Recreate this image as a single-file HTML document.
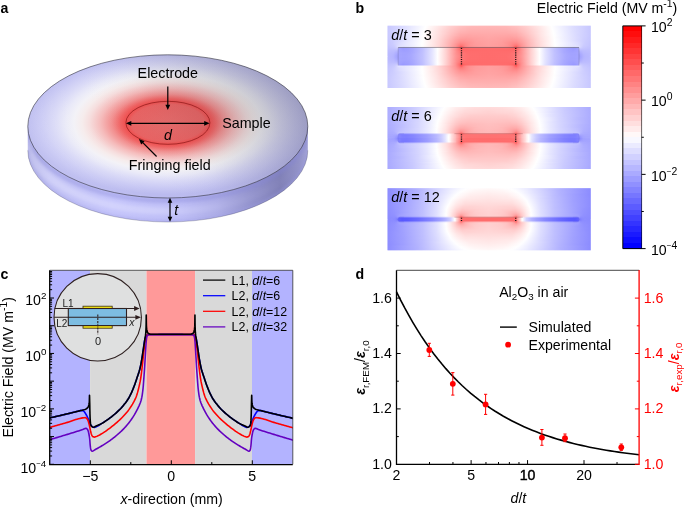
<!DOCTYPE html>
<html lang="en"><head><meta charset="utf-8"><title>Fringing field figure</title>
<style>html,body{margin:0;padding:0;background:#fff}svg{display:block;will-change:transform;font-family:'Liberation Sans', Arial, Helvetica, sans-serif;font-size:14.15px;fill:#000}</style>
</head><body>
<svg width="685" height="507" viewBox="0 0 685 507">
<rect width="685" height="507" fill="#fff"/>
<defs>
<radialGradient id="aTop" cx="0.5" cy="0.475" r="0.5" fx="0.5" fy="0.475">
<stop offset="0" stop-color="#e56a6a"/>
<stop offset="0.26" stop-color="#e86262"/>
<stop offset="0.30" stop-color="#f04e4e"/>
<stop offset="0.34" stop-color="#f06464"/>
<stop offset="0.40" stop-color="#f29090"/>
<stop offset="0.48" stop-color="#f5bcbc"/>
<stop offset="0.56" stop-color="#f6dede"/>
<stop offset="0.61" stop-color="#f6ecec"/>
<stop offset="0.67" stop-color="#f3f2f7"/>
<stop offset="0.73" stop-color="#eaeaf8"/>
<stop offset="0.81" stop-color="#dadaf7"/>
<stop offset="0.91" stop-color="#c9c9f4"/>
<stop offset="1" stop-color="#bbbbef"/>
</radialGradient>
<linearGradient id="aShade" x1="0" y1="0.7" x2="1" y2="0.3">
<stop offset="0" stop-color="#ffffff" stop-opacity="0.10"/>
<stop offset="0.3" stop-color="#ffffff" stop-opacity="0"/>
<stop offset="0.5" stop-color="#505058" stop-opacity="0.03"/>
<stop offset="0.65" stop-color="#505058" stop-opacity="0.12"/>
<stop offset="0.82" stop-color="#505058" stop-opacity="0.22"/>
<stop offset="1" stop-color="#505058" stop-opacity="0.32"/>
</linearGradient>
<linearGradient id="aSide" x1="0" y1="0" x2="1" y2="0">
<stop offset="0" stop-color="#b4b4e6"/>
<stop offset="0.08" stop-color="#c2c2f4"/>
<stop offset="0.3" stop-color="#c6c6fb"/>
<stop offset="0.55" stop-color="#bdbdf6"/>
<stop offset="0.68" stop-color="#adade6"/>
<stop offset="0.8" stop-color="#9292cc"/>
<stop offset="0.9" stop-color="#7f7fb6"/>
<stop offset="0.97" stop-color="#9292c8"/>
<stop offset="1" stop-color="#a2a2d4"/>
</linearGradient>
</defs>
<clipPath id="aSideClip"><path d="M27.8,126.4 L27.8,150.4 A140,71.6 0 0 0 307.8,150.4 L307.8,126.4 Z"/></clipPath>
<filter id="aBlur" x="-5%%" y="-60%%" width="110%%" height="220%%"><feGaussianBlur stdDeviation="1.5"/></filter>
<path d="M27.8,126.4 L27.8,150.4 A140,71.6 0 0 0 307.8,150.4 L307.8,126.4 Z" fill="url(#aSide)"/>
<g clip-path="url(#aSideClip)"><g filter="url(#aBlur)" fill="none">
<path d="M27.8,128.9 A140,71.6 0 0 0 307.8,128.9" stroke="#8484d8" stroke-opacity="0.36" stroke-width="5"/>
<linearGradient id="aHi" gradientUnits="userSpaceOnUse" x1="28" y1="0" x2="308" y2="0"><stop offset="0" stop-color="#e6e6ff" stop-opacity="0.2"/><stop offset="0.1" stop-color="#e6e6ff" stop-opacity="0.4"/><stop offset="0.45" stop-color="#e6e6ff" stop-opacity="0.36"/><stop offset="0.7" stop-color="#e6e6ff" stop-opacity="0.08"/><stop offset="1" stop-color="#e6e6ff" stop-opacity="0"/></linearGradient>
<path d="M27.8,139.4 A140,71.6 0 0 0 307.8,139.4" stroke="url(#aHi)" stroke-width="7"/>
<path d="M27.8,149.9 A140,71.6 0 0 0 307.8,149.9" stroke="#9a9ae4" stroke-opacity="0.4" stroke-width="3"/>
</g></g>
<path d="M27.8,150.4 A140,71.6 0 0 0 307.8,150.4" fill="none" stroke="#3a3a55" stroke-opacity="0.55" stroke-width="0.5"/>
<ellipse cx="167.8" cy="126.4" rx="140" ry="71.6" fill="url(#aTop)"/>
<ellipse cx="167.8" cy="126.4" rx="140" ry="71.6" fill="url(#aShade)" stroke="#33333d" stroke-width="0.6"/>
<ellipse cx="167.9" cy="122.8" rx="42" ry="21.5" fill="none" stroke="#8a1818" stroke-width="0.7"/>
<g stroke="#000" stroke-width="1.2" fill="none">
<line x1="167.8" y1="86.5" x2="167.8" y2="106"/>
<line x1="130" y1="123.3" x2="205" y2="123.3"/>
<line x1="156.6" y1="156.5" x2="141.8" y2="141.7"/>
<line x1="170" y1="201" x2="170" y2="218"/>
</g>
<polygon points="167.8,110 165.4,104.8 170.2,104.8" fill="#000"/>
<polygon points="125.9,123.3 131.3,120.9 131.3,125.7" fill="#000"/>
<polygon points="209.6,123.3 204.2,125.7 204.2,120.9" fill="#000"/>
<polygon points="138.9,138.9 144.56,141.15 141.18,144.55" fill="#000"/>
<polygon points="170,197.8 172.3,202.8 167.7,202.8" fill="#000"/>
<polygon points="170,221.8 167.7,216.8 172.3,216.8" fill="#000"/>
<text x="0.6" y="12.9" font-weight="bold">a</text>
<g font-size="14.3">
<text x="137.6" y="78.1">Electrode</text>
<text x="222.2" y="127.8">Sample</text>
<text x="128.8" y="170.1">Fringing field</text>
<text x="164" y="140" font-style="italic">d</text>
<text x="174.3" y="214.7" font-style="italic">t</text>
</g>
<defs><clipPath id="bend"><rect x="396" y="0" width="8" height="260"/><rect x="573" y="0" width="8" height="260"/></clipPath>
<clipPath id="bc3"><rect x="387.6" y="25.8" width="203.1" height="62.1"/></clipPath>
<linearGradient id="b3_32" gradientUnits="userSpaceOnUse" x1="488.6" y1="0" x2="592.1" y2="0" spreadMethod="reflect"><stop offset="0" stop-color="#ffbbbb"/><stop offset="0.1643" stop-color="#ffbdbd"/><stop offset="0.2705" stop-color="#ffc5c5"/><stop offset="0.3623" stop-color="#ffd2d2"/><stop offset="0.599" stop-color="#ffffff"/><stop offset="0.8213" stop-color="#dbdbff"/><stop offset="1" stop-color="#c5c5ff"/></linearGradient>
<linearGradient id="b3_31" gradientUnits="userSpaceOnUse" x1="488.6" y1="0" x2="592.1" y2="0" spreadMethod="reflect"><stop offset="0" stop-color="#ffb9b9"/><stop offset="0.1691" stop-color="#ffbbbb"/><stop offset="0.2705" stop-color="#ffc3c3"/><stop offset="0.3623" stop-color="#ffd0d0"/><stop offset="0.6039" stop-color="#ffffff"/><stop offset="0.8213" stop-color="#dcdcff"/><stop offset="1" stop-color="#c5c5ff"/></linearGradient>
<linearGradient id="b3_30" gradientUnits="userSpaceOnUse" x1="488.6" y1="0" x2="592.1" y2="0" spreadMethod="reflect"><stop offset="0" stop-color="#ffb7b7"/><stop offset="0.1691" stop-color="#ffb9b9"/><stop offset="0.2705" stop-color="#ffc1c1"/><stop offset="0.3623" stop-color="#ffcfcf"/><stop offset="0.6087" stop-color="#ffffff"/><stop offset="0.8213" stop-color="#dcdcff"/><stop offset="1" stop-color="#c5c5ff"/></linearGradient>
<linearGradient id="b3_29" gradientUnits="userSpaceOnUse" x1="488.6" y1="0" x2="592.1" y2="0" spreadMethod="reflect"><stop offset="0" stop-color="#ffb5b5"/><stop offset="0.1739" stop-color="#ffb7b7"/><stop offset="0.2705" stop-color="#ffbfbf"/><stop offset="0.3623" stop-color="#ffcdcd"/><stop offset="0.6087" stop-color="#ffffff"/><stop offset="0.8213" stop-color="#dcdcff"/><stop offset="1" stop-color="#c5c5ff"/></linearGradient>
<linearGradient id="b3_28" gradientUnits="userSpaceOnUse" x1="488.6" y1="0" x2="592.1" y2="0" spreadMethod="reflect"><stop offset="0" stop-color="#ffb4b4"/><stop offset="0.1739" stop-color="#ffb5b5"/><stop offset="0.2705" stop-color="#ffbcbc"/><stop offset="0.3623" stop-color="#ffcbcb"/><stop offset="0.6135" stop-color="#ffffff"/><stop offset="0.8213" stop-color="#dcdcff"/><stop offset="1" stop-color="#c5c5ff"/></linearGradient>
<linearGradient id="b3_27" gradientUnits="userSpaceOnUse" x1="488.6" y1="0" x2="592.1" y2="0" spreadMethod="reflect"><stop offset="0" stop-color="#ffb2b2"/><stop offset="0.1787" stop-color="#ffb4b4"/><stop offset="0.2705" stop-color="#ffbaba"/><stop offset="0.3623" stop-color="#ffc9c9"/><stop offset="0.6184" stop-color="#ffffff"/><stop offset="0.8213" stop-color="#ddddff"/><stop offset="1" stop-color="#c5c5ff"/></linearGradient>
<linearGradient id="b3_26" gradientUnits="userSpaceOnUse" x1="488.6" y1="0" x2="592.1" y2="0" spreadMethod="reflect"><stop offset="0" stop-color="#ffb0b0"/><stop offset="0.1787" stop-color="#ffb1b1"/><stop offset="0.2705" stop-color="#ffb8b8"/><stop offset="0.3623" stop-color="#ffc7c7"/><stop offset="0.6184" stop-color="#ffffff"/><stop offset="0.8213" stop-color="#ddddff"/><stop offset="1" stop-color="#c5c5ff"/></linearGradient>
<linearGradient id="b3_25" gradientUnits="userSpaceOnUse" x1="488.6" y1="0" x2="592.1" y2="0" spreadMethod="reflect"><stop offset="0" stop-color="#ffafaf"/><stop offset="0.1787" stop-color="#ffafaf"/><stop offset="0.2705" stop-color="#ffb5b5"/><stop offset="0.3623" stop-color="#ffc6c6"/><stop offset="0.6232" stop-color="#ffffff"/><stop offset="0.8213" stop-color="#ddddff"/><stop offset="1" stop-color="#c5c5ff"/></linearGradient>
<linearGradient id="b3_24" gradientUnits="userSpaceOnUse" x1="488.6" y1="0" x2="592.1" y2="0" spreadMethod="reflect"><stop offset="0" stop-color="#ffadad"/><stop offset="0.1787" stop-color="#ffadad"/><stop offset="0.2705" stop-color="#ffb3b3"/><stop offset="0.3623" stop-color="#ffc4c4"/><stop offset="0.6232" stop-color="#ffffff"/><stop offset="0.8213" stop-color="#ddddff"/><stop offset="1" stop-color="#c5c5ff"/></linearGradient>
<linearGradient id="b3_23" gradientUnits="userSpaceOnUse" x1="488.6" y1="0" x2="592.1" y2="0" spreadMethod="reflect"><stop offset="0" stop-color="#ffacac"/><stop offset="0.1787" stop-color="#ffabab"/><stop offset="0.2705" stop-color="#ffb0b0"/><stop offset="0.3623" stop-color="#ffc2c2"/><stop offset="0.5024" stop-color="#ffe5e5"/><stop offset="0.628" stop-color="#ffffff"/><stop offset="0.8213" stop-color="#dedeff"/><stop offset="1" stop-color="#c5c5ff"/></linearGradient>
<linearGradient id="b3_22" gradientUnits="userSpaceOnUse" x1="488.6" y1="0" x2="592.1" y2="0" spreadMethod="reflect"><stop offset="0" stop-color="#ffaaaa"/><stop offset="0.1932" stop-color="#ffa9a9"/><stop offset="0.2705" stop-color="#ffadad"/><stop offset="0.314" stop-color="#ffb5b5"/><stop offset="0.5024" stop-color="#ffe4e4"/><stop offset="0.628" stop-color="#ffffff"/><stop offset="0.8647" stop-color="#d7d7ff"/><stop offset="1" stop-color="#c5c5ff"/></linearGradient>
<linearGradient id="b3_21" gradientUnits="userSpaceOnUse" x1="488.6" y1="0" x2="592.1" y2="0" spreadMethod="reflect"><stop offset="0" stop-color="#ffa9a9"/><stop offset="0.1981" stop-color="#ffa6a6"/><stop offset="0.2705" stop-color="#ffaaaa"/><stop offset="0.3623" stop-color="#ffbebe"/><stop offset="0.5459" stop-color="#ffeeee"/><stop offset="0.6329" stop-color="#ffffff"/><stop offset="0.8647" stop-color="#d7d7ff"/><stop offset="1" stop-color="#c5c5ff"/></linearGradient>
<linearGradient id="b3_20" gradientUnits="userSpaceOnUse" x1="488.6" y1="0" x2="592.1" y2="0" spreadMethod="reflect"><stop offset="0" stop-color="#ffa8a8"/><stop offset="0.2029" stop-color="#ffa4a4"/><stop offset="0.2705" stop-color="#ffa8a8"/><stop offset="0.3623" stop-color="#ffbcbc"/><stop offset="0.5024" stop-color="#ffe3e3"/><stop offset="0.6329" stop-color="#ffffff"/><stop offset="0.8647" stop-color="#d7d7ff"/><stop offset="1" stop-color="#c5c5ff"/></linearGradient>
<linearGradient id="b3_19" gradientUnits="userSpaceOnUse" x1="488.6" y1="0" x2="592.1" y2="0" spreadMethod="reflect"><stop offset="0" stop-color="#ffa7a7"/><stop offset="0.2077" stop-color="#ffa1a1"/><stop offset="0.2705" stop-color="#ffa4a4"/><stop offset="0.314" stop-color="#ffacac"/><stop offset="0.5024" stop-color="#ffe2e2"/><stop offset="0.6329" stop-color="#fffefe"/><stop offset="0.913" stop-color="#d0d0ff"/><stop offset="1" stop-color="#c4c4ff"/></linearGradient>
<linearGradient id="b3_18" gradientUnits="userSpaceOnUse" x1="488.6" y1="0" x2="592.1" y2="0" spreadMethod="reflect"><stop offset="0" stop-color="#ffa6a6"/><stop offset="0.2174" stop-color="#ff9e9e"/><stop offset="0.2705" stop-color="#ffa1a1"/><stop offset="0.314" stop-color="#ffaaaa"/><stop offset="0.5024" stop-color="#ffe1e1"/><stop offset="0.6329" stop-color="#fffefe"/><stop offset="0.913" stop-color="#d0d0ff"/><stop offset="1" stop-color="#c4c4ff"/></linearGradient>
<linearGradient id="b3_17" gradientUnits="userSpaceOnUse" x1="488.6" y1="0" x2="592.1" y2="0" spreadMethod="reflect"><stop offset="0" stop-color="#ffa4a4"/><stop offset="0.2222" stop-color="#ff9b9b"/><stop offset="0.2705" stop-color="#ff9d9d"/><stop offset="0.314" stop-color="#ffa6a6"/><stop offset="0.5024" stop-color="#ffe0e0"/><stop offset="0.6377" stop-color="#ffffff"/><stop offset="0.913" stop-color="#cfcfff"/><stop offset="1" stop-color="#c4c4ff"/></linearGradient>
<linearGradient id="b3_16" gradientUnits="userSpaceOnUse" x1="488.6" y1="0" x2="592.1" y2="0" spreadMethod="reflect"><stop offset="0" stop-color="#ffa4a4"/><stop offset="0.087" stop-color="#ffa2a2"/><stop offset="0.2319" stop-color="#ff9797"/><stop offset="0.2705" stop-color="#ff9999"/><stop offset="0.314" stop-color="#ffa3a3"/><stop offset="0.5024" stop-color="#ffe0e0"/><stop offset="0.6377" stop-color="#ffffff"/><stop offset="0.913" stop-color="#cfcfff"/><stop offset="1" stop-color="#c4c4ff"/></linearGradient>
<linearGradient id="b3_15" gradientUnits="userSpaceOnUse" x1="488.6" y1="0" x2="592.1" y2="0" spreadMethod="reflect"><stop offset="0" stop-color="#ffa3a3"/><stop offset="0.1208" stop-color="#ff9f9f"/><stop offset="0.2319" stop-color="#ff9494"/><stop offset="0.2705" stop-color="#ff9595"/><stop offset="0.314" stop-color="#ffa0a0"/><stop offset="0.4589" stop-color="#ffd3d3"/><stop offset="0.6377" stop-color="#ffffff"/><stop offset="0.9227" stop-color="#cdcdff"/><stop offset="1" stop-color="#c3c3ff"/></linearGradient>
<linearGradient id="b3_14" gradientUnits="userSpaceOnUse" x1="488.6" y1="0" x2="592.1" y2="0" spreadMethod="reflect"><stop offset="0" stop-color="#ffa2a2"/><stop offset="0.1159" stop-color="#ff9e9e"/><stop offset="0.2367" stop-color="#ff8f8f"/><stop offset="0.2705" stop-color="#ff8f8f"/><stop offset="0.4589" stop-color="#ffd2d2"/><stop offset="0.6377" stop-color="#ffffff"/><stop offset="0.8599" stop-color="#dbdbff"/><stop offset="0.9275" stop-color="#ccccff"/><stop offset="1" stop-color="#c3c3ff"/></linearGradient>
<linearGradient id="b3_13" gradientUnits="userSpaceOnUse" x1="488.6" y1="0" x2="592.1" y2="0" spreadMethod="reflect"><stop offset="0" stop-color="#ffa2a2"/><stop offset="0.1304" stop-color="#ff9c9c"/><stop offset="0.2415" stop-color="#ff8a8a"/><stop offset="0.2705" stop-color="#ff8a8a"/><stop offset="0.4589" stop-color="#ffd1d1"/><stop offset="0.5459" stop-color="#ffeaea"/><stop offset="0.6425" stop-color="#ffffff"/><stop offset="0.8599" stop-color="#dcdcff"/><stop offset="0.9275" stop-color="#ccccff"/><stop offset="1" stop-color="#c2c2ff"/></linearGradient>
<linearGradient id="b3_12" gradientUnits="userSpaceOnUse" x1="488.6" y1="0" x2="592.1" y2="0" spreadMethod="reflect"><stop offset="0" stop-color="#ffa1a1"/><stop offset="0.1353" stop-color="#ff9b9b"/><stop offset="0.1787" stop-color="#ff9595"/><stop offset="0.2512" stop-color="#ff8383"/><stop offset="0.2705" stop-color="#ff8282"/><stop offset="0.3671" stop-color="#ffafaf"/><stop offset="0.4589" stop-color="#ffd0d0"/><stop offset="0.5459" stop-color="#ffe9e9"/><stop offset="0.6425" stop-color="#ffffff"/><stop offset="0.8599" stop-color="#ddddff"/><stop offset="0.9275" stop-color="#cbcbff"/><stop offset="1" stop-color="#c2c2ff"/></linearGradient>
<linearGradient id="b3_11" gradientUnits="userSpaceOnUse" x1="488.6" y1="0" x2="592.1" y2="0" spreadMethod="reflect"><stop offset="0" stop-color="#ffa1a1"/><stop offset="0.1353" stop-color="#ff9a9a"/><stop offset="0.1787" stop-color="#ff9494"/><stop offset="0.2222" stop-color="#ff8888"/><stop offset="0.256" stop-color="#ff7b7b"/><stop offset="0.2705" stop-color="#ff7a7a"/><stop offset="0.3188" stop-color="#ff9797"/><stop offset="0.4106" stop-color="#ffbfbf"/><stop offset="0.5024" stop-color="#ffdddd"/><stop offset="0.6425" stop-color="#ffffff"/><stop offset="0.7295" stop-color="#efefff"/><stop offset="0.8599" stop-color="#dedeff"/><stop offset="0.9179" stop-color="#ccccff"/><stop offset="1" stop-color="#c1c1ff"/></linearGradient>
<linearGradient id="b3_10" gradientUnits="userSpaceOnUse" x1="488.6" y1="0" x2="592.1" y2="0" spreadMethod="reflect"><stop offset="0" stop-color="#ffa0a0"/><stop offset="0.087" stop-color="#ff9e9e"/><stop offset="0.1787" stop-color="#ff9393"/><stop offset="0.2271" stop-color="#ff8484"/><stop offset="0.2657" stop-color="#ff6c6c"/><stop offset="0.3188" stop-color="#ff9494"/><stop offset="0.4106" stop-color="#ffbebe"/><stop offset="0.5024" stop-color="#ffdcdc"/><stop offset="0.6425" stop-color="#ffffff"/><stop offset="0.7778" stop-color="#e8e8ff"/><stop offset="0.8647" stop-color="#e0e0ff"/><stop offset="0.913" stop-color="#cbcbff"/><stop offset="1" stop-color="#c1c1ff"/></linearGradient>
<linearGradient id="b3_9" gradientUnits="userSpaceOnUse" x1="488.6" y1="0" x2="592.1" y2="0" spreadMethod="reflect"><stop offset="0" stop-color="#ffa0a0"/><stop offset="0.1304" stop-color="#ff9a9a"/><stop offset="0.2029" stop-color="#ff8c8c"/><stop offset="0.2271" stop-color="#ff8282"/><stop offset="0.2464" stop-color="#ff7171"/><stop offset="0.256" stop-color="#ff6464"/><stop offset="0.2657" stop-color="#ff4f4f"/><stop offset="0.2754" stop-color="#ff6c6c"/><stop offset="0.2899" stop-color="#ff7b7b"/><stop offset="0.3188" stop-color="#ff9292"/><stop offset="0.3671" stop-color="#ffaaaa"/><stop offset="0.5024" stop-color="#ffdcdc"/><stop offset="0.6425" stop-color="#fffefe"/><stop offset="0.8213" stop-color="#e4e4ff"/><stop offset="0.8744" stop-color="#e6e6ff"/><stop offset="0.8792" stop-color="#ddddff"/><stop offset="0.8889" stop-color="#d4d4ff"/><stop offset="0.913" stop-color="#c9c9ff"/><stop offset="1" stop-color="#c0c0ff"/></linearGradient>
<linearGradient id="b3_8" gradientUnits="userSpaceOnUse" x1="488.6" y1="0" x2="592.1" y2="0" spreadMethod="reflect"><stop offset="0" stop-color="#ff6c6c"/><stop offset="0.1643" stop-color="#ff6c6c"/><stop offset="0.2174" stop-color="#ff6868"/><stop offset="0.2464" stop-color="#ff5e5e"/><stop offset="0.256" stop-color="#ff5555"/><stop offset="0.2657" stop-color="#ff4848"/><stop offset="0.2754" stop-color="#ff6565"/><stop offset="0.3188" stop-color="#ff9292"/><stop offset="0.4106" stop-color="#ffd1d1"/><stop offset="0.4589" stop-color="#ffeeee"/><stop offset="0.4928" stop-color="#fefeff"/><stop offset="0.5459" stop-color="#e1e1ff"/><stop offset="0.6377" stop-color="#bebeff"/><stop offset="0.7295" stop-color="#a6a6ff"/><stop offset="0.7971" stop-color="#9b9bff"/><stop offset="0.8357" stop-color="#9898ff"/><stop offset="0.8599" stop-color="#9e9eff"/><stop offset="0.8696" stop-color="#aeaeff"/><stop offset="0.8744" stop-color="#d6d6ff"/><stop offset="0.8889" stop-color="#cdcdff"/><stop offset="0.913" stop-color="#c6c6ff"/><stop offset="1" stop-color="#bfbfff"/></linearGradient>
<linearGradient id="b3_7" gradientUnits="userSpaceOnUse" x1="488.6" y1="0" x2="592.1" y2="0" spreadMethod="reflect"><stop offset="0" stop-color="#ff6c6c"/><stop offset="0.1787" stop-color="#ff6b6b"/><stop offset="0.2222" stop-color="#ff6868"/><stop offset="0.2657" stop-color="#ff5f5f"/><stop offset="0.3188" stop-color="#ff9292"/><stop offset="0.3623" stop-color="#ffaeae"/><stop offset="0.3671" stop-color="#ffb4b4"/><stop offset="0.4589" stop-color="#ffeeee"/><stop offset="0.4928" stop-color="#ffffff"/><stop offset="0.5459" stop-color="#e2e2ff"/><stop offset="0.6377" stop-color="#bfbfff"/><stop offset="0.7295" stop-color="#a7a7ff"/><stop offset="0.7778" stop-color="#9f9fff"/><stop offset="0.8261" stop-color="#9b9bff"/><stop offset="0.8599" stop-color="#a1a1ff"/><stop offset="0.8696" stop-color="#a7a7ff"/><stop offset="0.8744" stop-color="#c5c5ff"/><stop offset="1" stop-color="#bfbfff"/></linearGradient>
<linearGradient id="b3_6" gradientUnits="userSpaceOnUse" x1="488.6" y1="0" x2="592.1" y2="0" spreadMethod="reflect"><stop offset="0" stop-color="#ff6c6c"/><stop offset="0.2657" stop-color="#ff6969"/><stop offset="0.3671" stop-color="#ffb4b4"/><stop offset="0.4589" stop-color="#ffeeee"/><stop offset="0.4928" stop-color="#ffffff"/><stop offset="0.5459" stop-color="#e3e3ff"/><stop offset="0.6377" stop-color="#bfbfff"/><stop offset="0.7295" stop-color="#a8a8ff"/><stop offset="0.7778" stop-color="#a0a0ff"/><stop offset="0.8213" stop-color="#9d9dff"/><stop offset="0.8599" stop-color="#a2a2ff"/><stop offset="0.8696" stop-color="#a6a6ff"/><stop offset="0.8744" stop-color="#bcbcff"/><stop offset="0.8841" stop-color="#bebeff"/><stop offset="1" stop-color="#bebeff"/></linearGradient>
<linearGradient id="b3_5" gradientUnits="userSpaceOnUse" x1="488.6" y1="0" x2="592.1" y2="0" spreadMethod="reflect"><stop offset="0" stop-color="#ff6c6c"/><stop offset="0.2319" stop-color="#ff6b6b"/><stop offset="0.2657" stop-color="#ff7070"/><stop offset="0.4106" stop-color="#ffd1d1"/><stop offset="0.4928" stop-color="#ffffff"/><stop offset="0.5459" stop-color="#e3e3ff"/><stop offset="0.6377" stop-color="#c0c0ff"/><stop offset="0.7295" stop-color="#a9a9ff"/><stop offset="0.7778" stop-color="#a1a1ff"/><stop offset="0.8213" stop-color="#9f9fff"/><stop offset="0.8599" stop-color="#a3a3ff"/><stop offset="0.8696" stop-color="#a5a5ff"/><stop offset="0.8744" stop-color="#b3b3ff"/><stop offset="0.913" stop-color="#bcbcff"/><stop offset="1" stop-color="#bebeff"/></linearGradient>
<linearGradient id="b3_4" gradientUnits="userSpaceOnUse" x1="488.6" y1="0" x2="592.1" y2="0" spreadMethod="reflect"><stop offset="0" stop-color="#ff6c6c"/><stop offset="0.2174" stop-color="#ff6d6d"/><stop offset="0.2609" stop-color="#ff7272"/><stop offset="0.314" stop-color="#ff8f8f"/><stop offset="0.3188" stop-color="#ff9595"/><stop offset="0.4106" stop-color="#ffd1d1"/><stop offset="0.4928" stop-color="#fffefe"/><stop offset="0.5459" stop-color="#e4e4ff"/><stop offset="0.6377" stop-color="#c0c0ff"/><stop offset="0.7295" stop-color="#a9a9ff"/><stop offset="0.7778" stop-color="#a2a2ff"/><stop offset="0.8164" stop-color="#a0a0ff"/><stop offset="0.8599" stop-color="#a3a3ff"/><stop offset="0.8696" stop-color="#a5a5ff"/><stop offset="0.8744" stop-color="#adadff"/><stop offset="0.8792" stop-color="#afafff"/><stop offset="0.913" stop-color="#b9b9ff"/><stop offset="1" stop-color="#bdbdff"/></linearGradient>
<linearGradient id="b3_3" gradientUnits="userSpaceOnUse" x1="488.6" y1="0" x2="592.1" y2="0" spreadMethod="reflect"><stop offset="0" stop-color="#ff6c6c"/><stop offset="0.2029" stop-color="#ff6d6d"/><stop offset="0.2609" stop-color="#ff7575"/><stop offset="0.314" stop-color="#ff9090"/><stop offset="0.4106" stop-color="#ffd1d1"/><stop offset="0.4928" stop-color="#fffefe"/><stop offset="0.5459" stop-color="#e4e4ff"/><stop offset="0.6377" stop-color="#c1c1ff"/><stop offset="0.7295" stop-color="#aaaaff"/><stop offset="0.7778" stop-color="#a3a3ff"/><stop offset="0.8599" stop-color="#a4a4ff"/><stop offset="0.9179" stop-color="#b8b8ff"/><stop offset="1" stop-color="#bdbdff"/></linearGradient>
<linearGradient id="b3_2" gradientUnits="userSpaceOnUse" x1="488.6" y1="0" x2="592.1" y2="0" spreadMethod="reflect"><stop offset="0" stop-color="#ff6c6c"/><stop offset="0.1981" stop-color="#ff6e6e"/><stop offset="0.2609" stop-color="#ff7777"/><stop offset="0.314" stop-color="#ff9191"/><stop offset="0.4106" stop-color="#ffd1d1"/><stop offset="0.4928" stop-color="#fffefe"/><stop offset="0.5459" stop-color="#e4e4ff"/><stop offset="0.6377" stop-color="#c1c1ff"/><stop offset="0.7536" stop-color="#a7a7ff"/><stop offset="0.8068" stop-color="#a2a2ff"/><stop offset="0.8744" stop-color="#a4a4ff"/><stop offset="0.9179" stop-color="#b6b6ff"/><stop offset="1" stop-color="#bcbcff"/></linearGradient>
<linearGradient id="b3_1" gradientUnits="userSpaceOnUse" x1="488.6" y1="0" x2="592.1" y2="0" spreadMethod="reflect"><stop offset="0" stop-color="#ff6c6c"/><stop offset="0.1787" stop-color="#ff6d6d"/><stop offset="0.2271" stop-color="#ff7171"/><stop offset="0.2609" stop-color="#ff7979"/><stop offset="0.314" stop-color="#ff9292"/><stop offset="0.4106" stop-color="#ffd1d1"/><stop offset="0.4928" stop-color="#fffefe"/><stop offset="0.5459" stop-color="#e4e4ff"/><stop offset="0.6377" stop-color="#c1c1ff"/><stop offset="0.7488" stop-color="#a8a8ff"/><stop offset="0.8068" stop-color="#a2a2ff"/><stop offset="0.8696" stop-color="#a5a5ff"/><stop offset="0.8744" stop-color="#a2a2ff"/><stop offset="0.9227" stop-color="#b6b6ff"/><stop offset="1" stop-color="#bcbcff"/></linearGradient>
<linearGradient id="b3_0" gradientUnits="userSpaceOnUse" x1="488.6" y1="0" x2="592.1" y2="0" spreadMethod="reflect"><stop offset="0" stop-color="#ff6c6c"/><stop offset="0.1787" stop-color="#ff6e6e"/><stop offset="0.2271" stop-color="#ff7171"/><stop offset="0.2609" stop-color="#ff7a7a"/><stop offset="0.314" stop-color="#ff9393"/><stop offset="0.4106" stop-color="#ffd1d1"/><stop offset="0.4928" stop-color="#fffefe"/><stop offset="0.5459" stop-color="#e4e4ff"/><stop offset="0.6377" stop-color="#c1c1ff"/><stop offset="0.7488" stop-color="#a8a8ff"/><stop offset="0.8068" stop-color="#a3a3ff"/><stop offset="0.8696" stop-color="#a5a5ff"/><stop offset="0.8744" stop-color="#a0a0ff"/><stop offset="0.9227" stop-color="#b5b5ff"/><stop offset="1" stop-color="#bcbcff"/></linearGradient>
<clipPath id="bc6"><rect x="387.6" y="107" width="203.1" height="62"/></clipPath>
<linearGradient id="b6_32" gradientUnits="userSpaceOnUse" x1="488.6" y1="0" x2="592.1" y2="0" spreadMethod="reflect"><stop offset="0" stop-color="#ffdddd"/><stop offset="0.2271" stop-color="#ffe5e5"/><stop offset="0.4106" stop-color="#ffffff"/><stop offset="0.7295" stop-color="#c8c8ff"/><stop offset="1" stop-color="#a6a6ff"/></linearGradient>
<linearGradient id="b6_31" gradientUnits="userSpaceOnUse" x1="488.6" y1="0" x2="592.1" y2="0" spreadMethod="reflect"><stop offset="0" stop-color="#ffdada"/><stop offset="0.2271" stop-color="#ffe3e3"/><stop offset="0.4203" stop-color="#fffeff"/><stop offset="0.7295" stop-color="#c8c8ff"/><stop offset="1" stop-color="#a6a6ff"/></linearGradient>
<linearGradient id="b6_30" gradientUnits="userSpaceOnUse" x1="488.6" y1="0" x2="592.1" y2="0" spreadMethod="reflect"><stop offset="0" stop-color="#ffd9d9"/><stop offset="0.1353" stop-color="#ffdbdb"/><stop offset="0.2271" stop-color="#ffe1e1"/><stop offset="0.314" stop-color="#ffebeb"/><stop offset="0.4251" stop-color="#ffffff"/><stop offset="0.7295" stop-color="#c8c8ff"/><stop offset="1" stop-color="#a6a6ff"/></linearGradient>
<linearGradient id="b6_29" gradientUnits="userSpaceOnUse" x1="488.6" y1="0" x2="592.1" y2="0" spreadMethod="reflect"><stop offset="0" stop-color="#ffd7d7"/><stop offset="0.1353" stop-color="#ffd9d9"/><stop offset="0.2271" stop-color="#ffdfdf"/><stop offset="0.314" stop-color="#ffe9e9"/><stop offset="0.4348" stop-color="#ffffff"/><stop offset="0.7295" stop-color="#c9c9ff"/><stop offset="1" stop-color="#a6a6ff"/></linearGradient>
<linearGradient id="b6_28" gradientUnits="userSpaceOnUse" x1="488.6" y1="0" x2="592.1" y2="0" spreadMethod="reflect"><stop offset="0" stop-color="#ffd5d5"/><stop offset="0.1353" stop-color="#ffd7d7"/><stop offset="0.2271" stop-color="#ffdcdc"/><stop offset="0.314" stop-color="#ffe7e7"/><stop offset="0.4396" stop-color="#ffffff"/><stop offset="0.7295" stop-color="#c9c9ff"/><stop offset="1" stop-color="#a6a6ff"/></linearGradient>
<linearGradient id="b6_27" gradientUnits="userSpaceOnUse" x1="488.6" y1="0" x2="592.1" y2="0" spreadMethod="reflect"><stop offset="0" stop-color="#ffd3d3"/><stop offset="0.2271" stop-color="#ffdada"/><stop offset="0.314" stop-color="#ffe6e6"/><stop offset="0.4444" stop-color="#ffffff"/><stop offset="0.7295" stop-color="#c9c9ff"/><stop offset="1" stop-color="#a7a7ff"/></linearGradient>
<linearGradient id="b6_26" gradientUnits="userSpaceOnUse" x1="488.6" y1="0" x2="592.1" y2="0" spreadMethod="reflect"><stop offset="0" stop-color="#ffd1d1"/><stop offset="0.2271" stop-color="#ffd8d8"/><stop offset="0.314" stop-color="#ffe3e3"/><stop offset="0.4541" stop-color="#ffffff"/><stop offset="0.5942" stop-color="#e1e1ff"/><stop offset="0.7295" stop-color="#cacaff"/><stop offset="1" stop-color="#a7a7ff"/></linearGradient>
<linearGradient id="b6_25" gradientUnits="userSpaceOnUse" x1="488.6" y1="0" x2="592.1" y2="0" spreadMethod="reflect"><stop offset="0" stop-color="#ffd0d0"/><stop offset="0.2271" stop-color="#ffd6d6"/><stop offset="0.314" stop-color="#ffe1e1"/><stop offset="0.4541" stop-color="#fffefe"/><stop offset="0.5942" stop-color="#e1e1ff"/><stop offset="0.7295" stop-color="#cacaff"/><stop offset="1" stop-color="#a7a7ff"/></linearGradient>
<linearGradient id="b6_24" gradientUnits="userSpaceOnUse" x1="488.6" y1="0" x2="592.1" y2="0" spreadMethod="reflect"><stop offset="0" stop-color="#ffcece"/><stop offset="0.2271" stop-color="#ffd3d3"/><stop offset="0.314" stop-color="#ffdfdf"/><stop offset="0.4589" stop-color="#ffffff"/><stop offset="0.7295" stop-color="#cacaff"/><stop offset="1" stop-color="#a7a7ff"/></linearGradient>
<linearGradient id="b6_23" gradientUnits="userSpaceOnUse" x1="488.6" y1="0" x2="592.1" y2="0" spreadMethod="reflect"><stop offset="0" stop-color="#ffcccc"/><stop offset="0.1691" stop-color="#ffcece"/><stop offset="0.256" stop-color="#ffd4d4"/><stop offset="0.3623" stop-color="#ffe7e7"/><stop offset="0.4638" stop-color="#ffffff"/><stop offset="0.5942" stop-color="#e2e2ff"/><stop offset="0.7295" stop-color="#cbcbff"/><stop offset="1" stop-color="#a7a7ff"/></linearGradient>
<linearGradient id="b6_22" gradientUnits="userSpaceOnUse" x1="488.6" y1="0" x2="592.1" y2="0" spreadMethod="reflect"><stop offset="0" stop-color="#ffcaca"/><stop offset="0.1691" stop-color="#ffcbcb"/><stop offset="0.256" stop-color="#ffd2d2"/><stop offset="0.3623" stop-color="#ffe5e5"/><stop offset="0.4686" stop-color="#ffffff"/><stop offset="0.5942" stop-color="#e3e3ff"/><stop offset="0.7295" stop-color="#cbcbff"/><stop offset="1" stop-color="#a7a7ff"/></linearGradient>
<linearGradient id="b6_21" gradientUnits="userSpaceOnUse" x1="488.6" y1="0" x2="592.1" y2="0" spreadMethod="reflect"><stop offset="0" stop-color="#ffc8c8"/><stop offset="0.1739" stop-color="#ffc9c9"/><stop offset="0.2609" stop-color="#ffd0d0"/><stop offset="0.3623" stop-color="#ffe3e3"/><stop offset="0.4734" stop-color="#ffffff"/><stop offset="0.5942" stop-color="#e3e3ff"/><stop offset="0.7295" stop-color="#cbcbff"/><stop offset="1" stop-color="#a7a7ff"/></linearGradient>
<linearGradient id="b6_20" gradientUnits="userSpaceOnUse" x1="488.6" y1="0" x2="592.1" y2="0" spreadMethod="reflect"><stop offset="0" stop-color="#ffc7c7"/><stop offset="0.1787" stop-color="#ffc7c7"/><stop offset="0.2609" stop-color="#ffcdcd"/><stop offset="0.3623" stop-color="#ffe1e1"/><stop offset="0.4734" stop-color="#ffffff"/><stop offset="0.686" stop-color="#d3d3ff"/><stop offset="0.8647" stop-color="#b7b7ff"/><stop offset="1" stop-color="#a7a7ff"/></linearGradient>
<linearGradient id="b6_19" gradientUnits="userSpaceOnUse" x1="488.6" y1="0" x2="592.1" y2="0" spreadMethod="reflect"><stop offset="0" stop-color="#ffc5c5"/><stop offset="0.1787" stop-color="#ffc5c5"/><stop offset="0.2609" stop-color="#ffcaca"/><stop offset="0.314" stop-color="#ffd3d3"/><stop offset="0.4783" stop-color="#ffffff"/><stop offset="0.686" stop-color="#d3d3ff"/><stop offset="0.8647" stop-color="#b7b7ff"/><stop offset="1" stop-color="#a7a7ff"/></linearGradient>
<linearGradient id="b6_18" gradientUnits="userSpaceOnUse" x1="488.6" y1="0" x2="592.1" y2="0" spreadMethod="reflect"><stop offset="0" stop-color="#ffc4c4"/><stop offset="0.1787" stop-color="#ffc2c2"/><stop offset="0.2657" stop-color="#ffc8c8"/><stop offset="0.314" stop-color="#ffd1d1"/><stop offset="0.4831" stop-color="#ffffff"/><stop offset="0.686" stop-color="#d3d3ff"/><stop offset="0.8647" stop-color="#b7b7ff"/><stop offset="1" stop-color="#a7a7ff"/></linearGradient>
<linearGradient id="b6_17" gradientUnits="userSpaceOnUse" x1="488.6" y1="0" x2="592.1" y2="0" spreadMethod="reflect"><stop offset="0" stop-color="#ffc2c2"/><stop offset="0.1932" stop-color="#ffc0c0"/><stop offset="0.2657" stop-color="#ffc5c5"/><stop offset="0.314" stop-color="#ffcece"/><stop offset="0.4879" stop-color="#ffffff"/><stop offset="0.686" stop-color="#d3d3ff"/><stop offset="1" stop-color="#a6a6ff"/></linearGradient>
<linearGradient id="b6_16" gradientUnits="userSpaceOnUse" x1="488.6" y1="0" x2="592.1" y2="0" spreadMethod="reflect"><stop offset="0" stop-color="#ffc1c1"/><stop offset="0.1981" stop-color="#ffbebe"/><stop offset="0.2657" stop-color="#ffc2c2"/><stop offset="0.314" stop-color="#ffcbcb"/><stop offset="0.4879" stop-color="#ffffff"/><stop offset="0.5942" stop-color="#e5e5ff"/><stop offset="0.686" stop-color="#d3d3ff"/><stop offset="1" stop-color="#a6a6ff"/></linearGradient>
<linearGradient id="b6_15" gradientUnits="userSpaceOnUse" x1="488.6" y1="0" x2="592.1" y2="0" spreadMethod="reflect"><stop offset="0" stop-color="#ffc0c0"/><stop offset="0.2029" stop-color="#ffbbbb"/><stop offset="0.2657" stop-color="#ffbfbf"/><stop offset="0.314" stop-color="#ffc9c9"/><stop offset="0.4928" stop-color="#ffffff"/><stop offset="0.5942" stop-color="#e5e5ff"/><stop offset="0.686" stop-color="#d4d4ff"/><stop offset="1" stop-color="#a6a6ff"/></linearGradient>
<linearGradient id="b6_14" gradientUnits="userSpaceOnUse" x1="488.6" y1="0" x2="592.1" y2="0" spreadMethod="reflect"><stop offset="0" stop-color="#ffbebe"/><stop offset="0.2077" stop-color="#ffb8b8"/><stop offset="0.2657" stop-color="#ffbbbb"/><stop offset="0.314" stop-color="#ffc5c5"/><stop offset="0.4928" stop-color="#ffffff"/><stop offset="0.5942" stop-color="#e6e6ff"/><stop offset="0.686" stop-color="#d4d4ff"/><stop offset="1" stop-color="#a6a6ff"/></linearGradient>
<linearGradient id="b6_13" gradientUnits="userSpaceOnUse" x1="488.6" y1="0" x2="592.1" y2="0" spreadMethod="reflect"><stop offset="0" stop-color="#ffbdbd"/><stop offset="0.2174" stop-color="#ffb5b5"/><stop offset="0.2657" stop-color="#ffb7b7"/><stop offset="0.314" stop-color="#ffc3c3"/><stop offset="0.4106" stop-color="#ffe6e6"/><stop offset="0.4976" stop-color="#ffffff"/><stop offset="0.5942" stop-color="#e6e6ff"/><stop offset="0.686" stop-color="#d4d4ff"/><stop offset="0.913" stop-color="#b0b0ff"/><stop offset="1" stop-color="#a6a6ff"/></linearGradient>
<linearGradient id="b6_12" gradientUnits="userSpaceOnUse" x1="488.6" y1="0" x2="592.1" y2="0" spreadMethod="reflect"><stop offset="0" stop-color="#ffbcbc"/><stop offset="0.087" stop-color="#ffbaba"/><stop offset="0.2319" stop-color="#ffb1b1"/><stop offset="0.2657" stop-color="#ffb2b2"/><stop offset="0.314" stop-color="#ffbfbf"/><stop offset="0.4106" stop-color="#ffe4e4"/><stop offset="0.4976" stop-color="#ffffff"/><stop offset="0.5942" stop-color="#e6e6ff"/><stop offset="0.686" stop-color="#d4d4ff"/><stop offset="0.913" stop-color="#b0b0ff"/><stop offset="1" stop-color="#a6a6ff"/></linearGradient>
<linearGradient id="b6_11" gradientUnits="userSpaceOnUse" x1="488.6" y1="0" x2="592.1" y2="0" spreadMethod="reflect"><stop offset="0" stop-color="#ffbbbb"/><stop offset="0.1159" stop-color="#ffb8b8"/><stop offset="0.2319" stop-color="#ffadad"/><stop offset="0.2705" stop-color="#ffafaf"/><stop offset="0.314" stop-color="#ffbbbb"/><stop offset="0.4106" stop-color="#ffe3e3"/><stop offset="0.4976" stop-color="#ffffff"/><stop offset="0.5942" stop-color="#e6e6ff"/><stop offset="0.686" stop-color="#d4d4ff"/><stop offset="0.913" stop-color="#b0b0ff"/><stop offset="1" stop-color="#a6a6ff"/></linearGradient>
<linearGradient id="b6_10" gradientUnits="userSpaceOnUse" x1="488.6" y1="0" x2="592.1" y2="0" spreadMethod="reflect"><stop offset="0" stop-color="#ffbaba"/><stop offset="0.087" stop-color="#ffb8b8"/><stop offset="0.2319" stop-color="#ffa9a9"/><stop offset="0.2705" stop-color="#ffaaaa"/><stop offset="0.314" stop-color="#ffb8b8"/><stop offset="0.4106" stop-color="#ffe2e2"/><stop offset="0.4976" stop-color="#fffefe"/><stop offset="0.5942" stop-color="#e6e6ff"/><stop offset="0.686" stop-color="#d4d4ff"/><stop offset="0.913" stop-color="#b0b0ff"/><stop offset="1" stop-color="#a5a5ff"/></linearGradient>
<linearGradient id="b6_9" gradientUnits="userSpaceOnUse" x1="488.6" y1="0" x2="592.1" y2="0" spreadMethod="reflect"><stop offset="0" stop-color="#ffbaba"/><stop offset="0.1256" stop-color="#ffb5b5"/><stop offset="0.2367" stop-color="#ffa4a4"/><stop offset="0.2705" stop-color="#ffa4a4"/><stop offset="0.314" stop-color="#ffb4b4"/><stop offset="0.4106" stop-color="#ffe1e1"/><stop offset="0.5024" stop-color="#fefeff"/><stop offset="0.5942" stop-color="#e7e7ff"/><stop offset="0.686" stop-color="#d5d5ff"/><stop offset="0.8599" stop-color="#bbbbff"/><stop offset="0.9179" stop-color="#aeaeff"/><stop offset="1" stop-color="#a5a5ff"/></linearGradient>
<linearGradient id="b6_8" gradientUnits="userSpaceOnUse" x1="488.6" y1="0" x2="592.1" y2="0" spreadMethod="reflect"><stop offset="0" stop-color="#ffb9b9"/><stop offset="0.1353" stop-color="#ffb3b3"/><stop offset="0.2464" stop-color="#ff9d9d"/><stop offset="0.2705" stop-color="#ff9c9c"/><stop offset="0.4106" stop-color="#ffe0e0"/><stop offset="0.5024" stop-color="#fefeff"/><stop offset="0.5942" stop-color="#e7e7ff"/><stop offset="0.686" stop-color="#d5d5ff"/><stop offset="0.8599" stop-color="#bbbbff"/><stop offset="0.9179" stop-color="#aeaeff"/><stop offset="1" stop-color="#a5a5ff"/></linearGradient>
<linearGradient id="b6_7" gradientUnits="userSpaceOnUse" x1="488.6" y1="0" x2="592.1" y2="0" spreadMethod="reflect"><stop offset="0" stop-color="#ffb9b9"/><stop offset="0.1353" stop-color="#ffb2b2"/><stop offset="0.1787" stop-color="#ffabab"/><stop offset="0.256" stop-color="#ff9494"/><stop offset="0.2705" stop-color="#ff9494"/><stop offset="0.3671" stop-color="#ffcbcb"/><stop offset="0.4106" stop-color="#ffdfdf"/><stop offset="0.5024" stop-color="#fefeff"/><stop offset="0.5942" stop-color="#e7e7ff"/><stop offset="0.686" stop-color="#d5d5ff"/><stop offset="0.8599" stop-color="#bcbcff"/><stop offset="0.9179" stop-color="#adadff"/><stop offset="1" stop-color="#a5a5ff"/></linearGradient>
<linearGradient id="b6_6" gradientUnits="userSpaceOnUse" x1="488.6" y1="0" x2="592.1" y2="0" spreadMethod="reflect"><stop offset="0" stop-color="#ffb8b8"/><stop offset="0.087" stop-color="#ffb6b6"/><stop offset="0.1739" stop-color="#ffabab"/><stop offset="0.2222" stop-color="#ff9d9d"/><stop offset="0.2657" stop-color="#ff8888"/><stop offset="0.2705" stop-color="#ff8989"/><stop offset="0.3188" stop-color="#ffaeae"/><stop offset="0.3671" stop-color="#ffcaca"/><stop offset="0.4106" stop-color="#ffdfdf"/><stop offset="0.5024" stop-color="#fefeff"/><stop offset="0.5942" stop-color="#e7e7ff"/><stop offset="0.686" stop-color="#d5d5ff"/><stop offset="0.8599" stop-color="#bebeff"/><stop offset="0.9179" stop-color="#acacff"/><stop offset="1" stop-color="#a4a4ff"/></linearGradient>
<linearGradient id="b6_5" gradientUnits="userSpaceOnUse" x1="488.6" y1="0" x2="592.1" y2="0" spreadMethod="reflect"><stop offset="0" stop-color="#ffb8b8"/><stop offset="0.087" stop-color="#ffb5b5"/><stop offset="0.1787" stop-color="#ffa9a9"/><stop offset="0.2271" stop-color="#ff9898"/><stop offset="0.2464" stop-color="#ff8888"/><stop offset="0.2657" stop-color="#ff7272"/><stop offset="0.2802" stop-color="#ff8787"/><stop offset="0.3188" stop-color="#ffaaaa"/><stop offset="0.3671" stop-color="#ffc8c8"/><stop offset="0.4106" stop-color="#ffdede"/><stop offset="0.5024" stop-color="#ffffff"/><stop offset="0.5942" stop-color="#e7e7ff"/><stop offset="0.686" stop-color="#d5d5ff"/><stop offset="0.7826" stop-color="#c6c6ff"/><stop offset="0.8696" stop-color="#c0c0ff"/><stop offset="0.8889" stop-color="#b3b3ff"/><stop offset="0.913" stop-color="#aaaaff"/><stop offset="1" stop-color="#a4a4ff"/></linearGradient>
<linearGradient id="b6_4" gradientUnits="userSpaceOnUse" x1="488.6" y1="0" x2="592.1" y2="0" spreadMethod="reflect"><stop offset="0" stop-color="#ff9292"/><stop offset="0.1353" stop-color="#ff8f8f"/><stop offset="0.2174" stop-color="#ff8484"/><stop offset="0.2271" stop-color="#ff8181"/><stop offset="0.2512" stop-color="#ff7070"/><stop offset="0.256" stop-color="#ff6969"/><stop offset="0.2657" stop-color="#ff5050"/><stop offset="0.2754" stop-color="#ff7979"/><stop offset="0.285" stop-color="#ff8787"/><stop offset="0.314" stop-color="#ffa7a7"/><stop offset="0.3188" stop-color="#ffb0b0"/><stop offset="0.3816" stop-color="#ffe6e6"/><stop offset="0.4251" stop-color="#eddff1"/><stop offset="0.5024" stop-color="#dadaff"/><stop offset="0.5942" stop-color="#c1c1ff"/><stop offset="0.7295" stop-color="#a7a7ff"/><stop offset="0.8213" stop-color="#9c9cff"/><stop offset="0.8551" stop-color="#9c9cff"/><stop offset="0.8599" stop-color="#9d9dff"/><stop offset="0.8696" stop-color="#aaaaff"/><stop offset="0.8744" stop-color="#bfbfff"/><stop offset="0.8841" stop-color="#b1b1ff"/><stop offset="0.8986" stop-color="#ababff"/><stop offset="1" stop-color="#a4a4ff"/></linearGradient>
<linearGradient id="b6_3" gradientUnits="userSpaceOnUse" x1="488.6" y1="0" x2="592.1" y2="0" spreadMethod="reflect"><stop offset="0" stop-color="#ff6c6c"/><stop offset="0.2174" stop-color="#ff6c6c"/><stop offset="0.2657" stop-color="#ff6363"/><stop offset="0.2705" stop-color="#ff6a6a"/><stop offset="0.2754" stop-color="#ff7a7a"/><stop offset="0.314" stop-color="#ffacac"/><stop offset="0.3188" stop-color="#ffb8b8"/><stop offset="0.3623" stop-color="#ffe6e6"/><stop offset="0.3671" stop-color="#fff0f0"/><stop offset="0.3816" stop-color="#fffdfd"/><stop offset="0.3865" stop-color="#fdfdff"/><stop offset="0.4058" stop-color="#ededff"/><stop offset="0.4106" stop-color="#e6e6ff"/><stop offset="0.4589" stop-color="#c8c8ff"/><stop offset="0.5024" stop-color="#b5b5ff"/><stop offset="0.5942" stop-color="#9b9bff"/><stop offset="0.7295" stop-color="#8181ff"/><stop offset="0.7971" stop-color="#7878ff"/><stop offset="0.8406" stop-color="#7878ff"/><stop offset="0.8599" stop-color="#7d7dff"/><stop offset="0.8696" stop-color="#8787ff"/><stop offset="0.8744" stop-color="#a6a6ff"/><stop offset="1" stop-color="#a3a3ff"/></linearGradient>
<linearGradient id="b6_2" gradientUnits="userSpaceOnUse" x1="488.6" y1="0" x2="592.1" y2="0" spreadMethod="reflect"><stop offset="0" stop-color="#ff6c6c"/><stop offset="0.2609" stop-color="#ff6f6f"/><stop offset="0.2705" stop-color="#ff7575"/><stop offset="0.2754" stop-color="#ff7f7f"/><stop offset="0.314" stop-color="#ffacac"/><stop offset="0.3188" stop-color="#ffb7b7"/><stop offset="0.3623" stop-color="#ffe5e5"/><stop offset="0.3671" stop-color="#ffefef"/><stop offset="0.3865" stop-color="#fefeff"/><stop offset="0.4251" stop-color="#dedeff"/><stop offset="0.4589" stop-color="#c9c9ff"/><stop offset="0.5024" stop-color="#b6b6ff"/><stop offset="0.5942" stop-color="#9b9bff"/><stop offset="0.7295" stop-color="#8181ff"/><stop offset="0.7923" stop-color="#7979ff"/><stop offset="0.8357" stop-color="#7979ff"/><stop offset="0.8696" stop-color="#8484ff"/><stop offset="0.8744" stop-color="#9595ff"/><stop offset="0.8986" stop-color="#a0a0ff"/><stop offset="0.9372" stop-color="#a5a5ff"/><stop offset="1" stop-color="#a3a3ff"/></linearGradient>
<linearGradient id="b6_1" gradientUnits="userSpaceOnUse" x1="488.6" y1="0" x2="592.1" y2="0" spreadMethod="reflect"><stop offset="0" stop-color="#ff6c6c"/><stop offset="0.2174" stop-color="#ff6d6d"/><stop offset="0.256" stop-color="#ff7272"/><stop offset="0.2705" stop-color="#ff7a7a"/><stop offset="0.2754" stop-color="#ff8383"/><stop offset="0.314" stop-color="#ffadad"/><stop offset="0.3188" stop-color="#ffb7b7"/><stop offset="0.3623" stop-color="#ffe5e5"/><stop offset="0.3671" stop-color="#ffeeee"/><stop offset="0.3865" stop-color="#ffffff"/><stop offset="0.4058" stop-color="#efefff"/><stop offset="0.4106" stop-color="#e8e8ff"/><stop offset="0.4589" stop-color="#c9c9ff"/><stop offset="0.5024" stop-color="#b6b6ff"/><stop offset="0.5942" stop-color="#9b9bff"/><stop offset="0.7295" stop-color="#8181ff"/><stop offset="0.7923" stop-color="#7a7aff"/><stop offset="0.8357" stop-color="#7a7aff"/><stop offset="0.8696" stop-color="#8383ff"/><stop offset="0.8841" stop-color="#9393ff"/><stop offset="0.913" stop-color="#a1a1ff"/><stop offset="1" stop-color="#a3a3ff"/></linearGradient>
<linearGradient id="b6_0" gradientUnits="userSpaceOnUse" x1="488.6" y1="0" x2="592.1" y2="0" spreadMethod="reflect"><stop offset="0" stop-color="#ff6c6c"/><stop offset="0.2077" stop-color="#ff6d6d"/><stop offset="0.2512" stop-color="#ff7373"/><stop offset="0.2705" stop-color="#ff7d7d"/><stop offset="0.314" stop-color="#ffadad"/><stop offset="0.3188" stop-color="#ffb8b8"/><stop offset="0.3623" stop-color="#ffe5e5"/><stop offset="0.3671" stop-color="#ffeeee"/><stop offset="0.3865" stop-color="#ffffff"/><stop offset="0.4058" stop-color="#f0f0ff"/><stop offset="0.4106" stop-color="#e9e9ff"/><stop offset="0.4589" stop-color="#cacaff"/><stop offset="0.5024" stop-color="#b6b6ff"/><stop offset="0.5942" stop-color="#9b9bff"/><stop offset="0.7295" stop-color="#8181ff"/><stop offset="0.7923" stop-color="#7a7aff"/><stop offset="0.8357" stop-color="#7b7bff"/><stop offset="0.8744" stop-color="#8181ff"/><stop offset="0.8889" stop-color="#9292ff"/><stop offset="0.913" stop-color="#a0a0ff"/><stop offset="0.9469" stop-color="#a4a4ff"/><stop offset="1" stop-color="#a3a3ff"/></linearGradient>
<clipPath id="bc12"><rect x="387.6" y="188.2" width="203.1" height="62.1"/></clipPath>
<linearGradient id="b12_32" gradientUnits="userSpaceOnUse" x1="488.6" y1="0" x2="592.1" y2="0" spreadMethod="reflect"><stop offset="0" stop-color="#fffbfb"/><stop offset="0.1643" stop-color="#ffffff"/><stop offset="0.2705" stop-color="#f5f5ff"/><stop offset="0.7295" stop-color="#aaaaff"/><stop offset="1" stop-color="#8989ff"/></linearGradient>
<linearGradient id="b12_31" gradientUnits="userSpaceOnUse" x1="488.6" y1="0" x2="592.1" y2="0" spreadMethod="reflect"><stop offset="0" stop-color="#fff9f9"/><stop offset="0.1884" stop-color="#ffffff"/><stop offset="0.2705" stop-color="#f7f7ff"/><stop offset="0.7295" stop-color="#ababff"/><stop offset="1" stop-color="#8a8aff"/></linearGradient>
<linearGradient id="b12_30" gradientUnits="userSpaceOnUse" x1="488.6" y1="0" x2="592.1" y2="0" spreadMethod="reflect"><stop offset="0" stop-color="#fff7f7"/><stop offset="0.2271" stop-color="#fefeff"/><stop offset="0.3623" stop-color="#ebebff"/><stop offset="0.7295" stop-color="#ababff"/><stop offset="1" stop-color="#8a8aff"/></linearGradient>
<linearGradient id="b12_29" gradientUnits="userSpaceOnUse" x1="488.6" y1="0" x2="592.1" y2="0" spreadMethod="reflect"><stop offset="0" stop-color="#fff5f5"/><stop offset="0.1353" stop-color="#fff8f8"/><stop offset="0.2319" stop-color="#fffeff"/><stop offset="0.256" stop-color="#fdfdff"/><stop offset="0.3623" stop-color="#ededff"/><stop offset="0.686" stop-color="#b2b2ff"/><stop offset="1" stop-color="#8a8aff"/></linearGradient>
<linearGradient id="b12_28" gradientUnits="userSpaceOnUse" x1="488.6" y1="0" x2="592.1" y2="0" spreadMethod="reflect"><stop offset="0" stop-color="#fff3f3"/><stop offset="0.1353" stop-color="#fff6f6"/><stop offset="0.2609" stop-color="#fefeff"/><stop offset="0.3623" stop-color="#efefff"/><stop offset="0.686" stop-color="#b2b2ff"/><stop offset="1" stop-color="#8a8aff"/></linearGradient>
<linearGradient id="b12_27" gradientUnits="userSpaceOnUse" x1="488.6" y1="0" x2="592.1" y2="0" spreadMethod="reflect"><stop offset="0" stop-color="#fff1f1"/><stop offset="0.1353" stop-color="#fff4f4"/><stop offset="0.2705" stop-color="#ffffff"/><stop offset="0.3623" stop-color="#f0f0ff"/><stop offset="0.686" stop-color="#b3b3ff"/><stop offset="1" stop-color="#8a8aff"/></linearGradient>
<linearGradient id="b12_26" gradientUnits="userSpaceOnUse" x1="488.6" y1="0" x2="592.1" y2="0" spreadMethod="reflect"><stop offset="0" stop-color="#ffefef"/><stop offset="0.1739" stop-color="#fff3f3"/><stop offset="0.2899" stop-color="#fefeff"/><stop offset="0.686" stop-color="#b3b3ff"/><stop offset="1" stop-color="#8a8aff"/></linearGradient>
<linearGradient id="b12_25" gradientUnits="userSpaceOnUse" x1="488.6" y1="0" x2="592.1" y2="0" spreadMethod="reflect"><stop offset="0" stop-color="#ffeded"/><stop offset="0.1787" stop-color="#fff2f2"/><stop offset="0.3043" stop-color="#fefeff"/><stop offset="0.686" stop-color="#b3b3ff"/><stop offset="0.8647" stop-color="#9999ff"/><stop offset="1" stop-color="#8a8aff"/></linearGradient>
<linearGradient id="b12_24" gradientUnits="userSpaceOnUse" x1="488.6" y1="0" x2="592.1" y2="0" spreadMethod="reflect"><stop offset="0" stop-color="#ffebeb"/><stop offset="0.1787" stop-color="#ffefef"/><stop offset="0.314" stop-color="#fffeff"/><stop offset="0.6377" stop-color="#bcbcff"/><stop offset="0.8213" stop-color="#9f9fff"/><stop offset="1" stop-color="#8a8aff"/></linearGradient>
<linearGradient id="b12_23" gradientUnits="userSpaceOnUse" x1="488.6" y1="0" x2="592.1" y2="0" spreadMethod="reflect"><stop offset="0" stop-color="#ffe9e9"/><stop offset="0.1787" stop-color="#ffeded"/><stop offset="0.3237" stop-color="#fefeff"/><stop offset="0.6377" stop-color="#bcbcff"/><stop offset="0.8213" stop-color="#a0a0ff"/><stop offset="1" stop-color="#8a8aff"/></linearGradient>
<linearGradient id="b12_22" gradientUnits="userSpaceOnUse" x1="488.6" y1="0" x2="592.1" y2="0" spreadMethod="reflect"><stop offset="0" stop-color="#ffe8e8"/><stop offset="0.1787" stop-color="#ffebeb"/><stop offset="0.2705" stop-color="#fff4f4"/><stop offset="0.3333" stop-color="#fefeff"/><stop offset="0.6377" stop-color="#bdbdff"/><stop offset="0.8213" stop-color="#a0a0ff"/><stop offset="1" stop-color="#8a8aff"/></linearGradient>
<linearGradient id="b12_21" gradientUnits="userSpaceOnUse" x1="488.6" y1="0" x2="592.1" y2="0" spreadMethod="reflect"><stop offset="0" stop-color="#ffe6e6"/><stop offset="0.2126" stop-color="#ffebeb"/><stop offset="0.343" stop-color="#fffeff"/><stop offset="0.5024" stop-color="#d8d8ff"/><stop offset="0.6377" stop-color="#bdbdff"/><stop offset="0.8213" stop-color="#a0a0ff"/><stop offset="1" stop-color="#8b8bff"/></linearGradient>
<linearGradient id="b12_20" gradientUnits="userSpaceOnUse" x1="488.6" y1="0" x2="592.1" y2="0" spreadMethod="reflect"><stop offset="0" stop-color="#ffe4e4"/><stop offset="0.2174" stop-color="#ffe9e9"/><stop offset="0.2705" stop-color="#ffefef"/><stop offset="0.3527" stop-color="#fefeff"/><stop offset="0.5024" stop-color="#d9d9ff"/><stop offset="0.6377" stop-color="#bdbdff"/><stop offset="0.8213" stop-color="#a0a0ff"/><stop offset="1" stop-color="#8b8bff"/></linearGradient>
<linearGradient id="b12_19" gradientUnits="userSpaceOnUse" x1="488.6" y1="0" x2="592.1" y2="0" spreadMethod="reflect"><stop offset="0" stop-color="#ffe2e2"/><stop offset="0.2222" stop-color="#ffe6e6"/><stop offset="0.2705" stop-color="#ffecec"/><stop offset="0.3623" stop-color="#fefeff"/><stop offset="0.5024" stop-color="#dadaff"/><stop offset="0.6377" stop-color="#bebeff"/><stop offset="0.8213" stop-color="#a0a0ff"/><stop offset="1" stop-color="#8b8bff"/></linearGradient>
<linearGradient id="b12_18" gradientUnits="userSpaceOnUse" x1="488.6" y1="0" x2="592.1" y2="0" spreadMethod="reflect"><stop offset="0" stop-color="#ffe1e1"/><stop offset="0.2271" stop-color="#ffe4e4"/><stop offset="0.2705" stop-color="#ffeaea"/><stop offset="0.3671" stop-color="#fefeff"/><stop offset="0.5024" stop-color="#dadaff"/><stop offset="0.6377" stop-color="#bebeff"/><stop offset="0.8213" stop-color="#a0a0ff"/><stop offset="1" stop-color="#8b8bff"/></linearGradient>
<linearGradient id="b12_17" gradientUnits="userSpaceOnUse" x1="488.6" y1="0" x2="592.1" y2="0" spreadMethod="reflect"><stop offset="0" stop-color="#ffdfdf"/><stop offset="0.2271" stop-color="#ffe1e1"/><stop offset="0.3043" stop-color="#ffeded"/><stop offset="0.372" stop-color="#fefeff"/><stop offset="0.5024" stop-color="#dbdbff"/><stop offset="0.6377" stop-color="#bebeff"/><stop offset="0.8213" stop-color="#a0a0ff"/><stop offset="1" stop-color="#8b8bff"/></linearGradient>
<linearGradient id="b12_16" gradientUnits="userSpaceOnUse" x1="488.6" y1="0" x2="592.1" y2="0" spreadMethod="reflect"><stop offset="0" stop-color="#ffdddd"/><stop offset="0.2271" stop-color="#ffdede"/><stop offset="0.3092" stop-color="#ffecec"/><stop offset="0.3768" stop-color="#fffeff"/><stop offset="0.5024" stop-color="#dcdcff"/><stop offset="0.6377" stop-color="#bebeff"/><stop offset="0.8213" stop-color="#a1a1ff"/><stop offset="1" stop-color="#8b8bff"/></linearGradient>
<linearGradient id="b12_15" gradientUnits="userSpaceOnUse" x1="488.6" y1="0" x2="592.1" y2="0" spreadMethod="reflect"><stop offset="0" stop-color="#ffdcdc"/><stop offset="0.2271" stop-color="#ffdcdc"/><stop offset="0.3092" stop-color="#ffe9e9"/><stop offset="0.3816" stop-color="#ffffff"/><stop offset="0.5024" stop-color="#dcdcff"/><stop offset="0.6377" stop-color="#bfbfff"/><stop offset="0.8213" stop-color="#a1a1ff"/><stop offset="1" stop-color="#8b8bff"/></linearGradient>
<linearGradient id="b12_14" gradientUnits="userSpaceOnUse" x1="488.6" y1="0" x2="592.1" y2="0" spreadMethod="reflect"><stop offset="0" stop-color="#ffdada"/><stop offset="0.2271" stop-color="#ffd8d8"/><stop offset="0.3043" stop-color="#ffe5e5"/><stop offset="0.3865" stop-color="#ffffff"/><stop offset="0.5024" stop-color="#ddddff"/><stop offset="0.6377" stop-color="#bfbfff"/><stop offset="0.8213" stop-color="#a1a1ff"/><stop offset="1" stop-color="#8b8bff"/></linearGradient>
<linearGradient id="b12_13" gradientUnits="userSpaceOnUse" x1="488.6" y1="0" x2="592.1" y2="0" spreadMethod="reflect"><stop offset="0" stop-color="#ffd9d9"/><stop offset="0.1884" stop-color="#ffd5d5"/><stop offset="0.2464" stop-color="#ffd7d7"/><stop offset="0.314" stop-color="#ffe5e5"/><stop offset="0.3913" stop-color="#ffffff"/><stop offset="0.5024" stop-color="#ddddff"/><stop offset="0.6377" stop-color="#bfbfff"/><stop offset="0.8213" stop-color="#a1a1ff"/><stop offset="1" stop-color="#8b8bff"/></linearGradient>
<linearGradient id="b12_12" gradientUnits="userSpaceOnUse" x1="488.6" y1="0" x2="592.1" y2="0" spreadMethod="reflect"><stop offset="0" stop-color="#ffd7d7"/><stop offset="0.1981" stop-color="#ffd1d1"/><stop offset="0.2512" stop-color="#ffd3d3"/><stop offset="0.314" stop-color="#ffe1e1"/><stop offset="0.3961" stop-color="#ffffff"/><stop offset="0.5024" stop-color="#dedeff"/><stop offset="0.6377" stop-color="#bfbfff"/><stop offset="0.8647" stop-color="#9b9bff"/><stop offset="1" stop-color="#8b8bff"/></linearGradient>
<linearGradient id="b12_11" gradientUnits="userSpaceOnUse" x1="488.6" y1="0" x2="592.1" y2="0" spreadMethod="reflect"><stop offset="0" stop-color="#ffd6d6"/><stop offset="0.2512" stop-color="#ffd0d0"/><stop offset="0.314" stop-color="#ffdfdf"/><stop offset="0.401" stop-color="#ffffff"/><stop offset="0.5024" stop-color="#dedeff"/><stop offset="0.6377" stop-color="#bfbfff"/><stop offset="0.8647" stop-color="#9b9bff"/><stop offset="1" stop-color="#8a8aff"/></linearGradient>
<linearGradient id="b12_10" gradientUnits="userSpaceOnUse" x1="488.6" y1="0" x2="592.1" y2="0" spreadMethod="reflect"><stop offset="0" stop-color="#ffd5d5"/><stop offset="0.256" stop-color="#ffcccc"/><stop offset="0.3092" stop-color="#ffd9d9"/><stop offset="0.3671" stop-color="#fff2f2"/><stop offset="0.4058" stop-color="#fefeff"/><stop offset="0.5024" stop-color="#dedeff"/><stop offset="0.6377" stop-color="#bfbfff"/><stop offset="0.913" stop-color="#9494ff"/><stop offset="1" stop-color="#8a8aff"/></linearGradient>
<linearGradient id="b12_9" gradientUnits="userSpaceOnUse" x1="488.6" y1="0" x2="592.1" y2="0" spreadMethod="reflect"><stop offset="0" stop-color="#ffd4d4"/><stop offset="0.256" stop-color="#ffc7c7"/><stop offset="0.3092" stop-color="#ffd6d6"/><stop offset="0.4058" stop-color="#ffffff"/><stop offset="0.5024" stop-color="#dfdfff"/><stop offset="0.6377" stop-color="#c0c0ff"/><stop offset="0.913" stop-color="#9494ff"/><stop offset="1" stop-color="#8a8aff"/></linearGradient>
<linearGradient id="b12_8" gradientUnits="userSpaceOnUse" x1="488.6" y1="0" x2="592.1" y2="0" spreadMethod="reflect"><stop offset="0" stop-color="#ffd3d3"/><stop offset="0.087" stop-color="#ffd1d1"/><stop offset="0.2319" stop-color="#ffc2c2"/><stop offset="0.2609" stop-color="#ffc2c2"/><stop offset="0.3043" stop-color="#ffd0d0"/><stop offset="0.3671" stop-color="#ffefef"/><stop offset="0.4058" stop-color="#fffefe"/><stop offset="0.5024" stop-color="#dfdfff"/><stop offset="0.6377" stop-color="#c0c0ff"/><stop offset="0.913" stop-color="#9494ff"/><stop offset="1" stop-color="#8a8aff"/></linearGradient>
<linearGradient id="b12_7" gradientUnits="userSpaceOnUse" x1="488.6" y1="0" x2="592.1" y2="0" spreadMethod="reflect"><stop offset="0" stop-color="#ffd2d2"/><stop offset="0.1256" stop-color="#ffcdcd"/><stop offset="0.2319" stop-color="#ffbdbd"/><stop offset="0.2609" stop-color="#ffbcbc"/><stop offset="0.2995" stop-color="#ffc9c9"/><stop offset="0.3671" stop-color="#ffeded"/><stop offset="0.4106" stop-color="#fefeff"/><stop offset="0.5024" stop-color="#dfdfff"/><stop offset="0.6377" stop-color="#c0c0ff"/><stop offset="0.913" stop-color="#9393ff"/><stop offset="1" stop-color="#8a8aff"/></linearGradient>
<linearGradient id="b12_6" gradientUnits="userSpaceOnUse" x1="488.6" y1="0" x2="592.1" y2="0" spreadMethod="reflect"><stop offset="0" stop-color="#ffd2d2"/><stop offset="0.1353" stop-color="#ffcbcb"/><stop offset="0.2415" stop-color="#ffb7b7"/><stop offset="0.2657" stop-color="#ffb6b6"/><stop offset="0.3043" stop-color="#ffc7c7"/><stop offset="0.3671" stop-color="#ffecec"/><stop offset="0.4106" stop-color="#fefeff"/><stop offset="0.5024" stop-color="#dfdfff"/><stop offset="0.6377" stop-color="#c0c0ff"/><stop offset="0.913" stop-color="#9393ff"/><stop offset="1" stop-color="#8a8aff"/></linearGradient>
<linearGradient id="b12_5" gradientUnits="userSpaceOnUse" x1="488.6" y1="0" x2="592.1" y2="0" spreadMethod="reflect"><stop offset="0" stop-color="#ffd1d1"/><stop offset="0.1353" stop-color="#ffcaca"/><stop offset="0.1787" stop-color="#ffc3c3"/><stop offset="0.2464" stop-color="#ffaeae"/><stop offset="0.2657" stop-color="#ffacac"/><stop offset="0.2899" stop-color="#ffb8b8"/><stop offset="0.314" stop-color="#ffc7c7"/><stop offset="0.3188" stop-color="#ffcdcd"/><stop offset="0.3671" stop-color="#ffebeb"/><stop offset="0.4106" stop-color="#ffffff"/><stop offset="0.5024" stop-color="#e0e0ff"/><stop offset="0.6377" stop-color="#c0c0ff"/><stop offset="0.8599" stop-color="#9e9eff"/><stop offset="0.913" stop-color="#9292ff"/><stop offset="1" stop-color="#8a8aff"/></linearGradient>
<linearGradient id="b12_4" gradientUnits="userSpaceOnUse" x1="488.6" y1="0" x2="592.1" y2="0" spreadMethod="reflect"><stop offset="0" stop-color="#ffd1d1"/><stop offset="0.087" stop-color="#ffcece"/><stop offset="0.1691" stop-color="#ffc4c4"/><stop offset="0.2174" stop-color="#ffb6b6"/><stop offset="0.2657" stop-color="#ffa1a1"/><stop offset="0.2705" stop-color="#ffa2a2"/><stop offset="0.3285" stop-color="#ffd1d1"/><stop offset="0.3671" stop-color="#ffeaea"/><stop offset="0.4106" stop-color="#ffffff"/><stop offset="0.5024" stop-color="#e0e0ff"/><stop offset="0.6377" stop-color="#c0c0ff"/><stop offset="0.7295" stop-color="#b0b0ff"/><stop offset="0.8599" stop-color="#9f9fff"/><stop offset="0.913" stop-color="#9191ff"/><stop offset="1" stop-color="#8a8aff"/></linearGradient>
<linearGradient id="b12_3" gradientUnits="userSpaceOnUse" x1="488.6" y1="0" x2="592.1" y2="0" spreadMethod="reflect"><stop offset="0" stop-color="#ffd1d1"/><stop offset="0.087" stop-color="#ffcece"/><stop offset="0.1787" stop-color="#ffc1c1"/><stop offset="0.2271" stop-color="#ffb0b0"/><stop offset="0.2657" stop-color="#ff8d8d"/><stop offset="0.2705" stop-color="#ff9090"/><stop offset="0.2754" stop-color="#ff9a9a"/><stop offset="0.314" stop-color="#ffc0c0"/><stop offset="0.3188" stop-color="#ffc7c7"/><stop offset="0.3671" stop-color="#ffe9e9"/><stop offset="0.4106" stop-color="#fffefe"/><stop offset="0.5024" stop-color="#e0e0ff"/><stop offset="0.6377" stop-color="#c0c0ff"/><stop offset="0.7778" stop-color="#a9a9ff"/><stop offset="0.8647" stop-color="#a0a0ff"/><stop offset="0.8889" stop-color="#9595ff"/><stop offset="0.913" stop-color="#9090ff"/><stop offset="1" stop-color="#8a8aff"/></linearGradient>
<linearGradient id="b12_2" gradientUnits="userSpaceOnUse" x1="488.6" y1="0" x2="592.1" y2="0" spreadMethod="reflect"><stop offset="0" stop-color="#ffb8b8"/><stop offset="0.1353" stop-color="#ffb2b2"/><stop offset="0.2126" stop-color="#ffa3a3"/><stop offset="0.2271" stop-color="#ff9e9e"/><stop offset="0.2464" stop-color="#ff8e8e"/><stop offset="0.256" stop-color="#ff8181"/><stop offset="0.2657" stop-color="#ff6767"/><stop offset="0.2754" stop-color="#ff8f8f"/><stop offset="0.3237" stop-color="#ffd6d6"/><stop offset="0.3671" stop-color="#f2e2ee"/><stop offset="0.4106" stop-color="#ececff"/><stop offset="0.5459" stop-color="#c1c1ff"/><stop offset="0.686" stop-color="#a4a4ff"/><stop offset="0.8406" stop-color="#8f8fff"/><stop offset="0.8599" stop-color="#9090ff"/><stop offset="0.8696" stop-color="#9797ff"/><stop offset="0.8744" stop-color="#9f9fff"/><stop offset="0.8841" stop-color="#9393ff"/><stop offset="0.8937" stop-color="#9090ff"/><stop offset="1" stop-color="#8a8aff"/></linearGradient>
<linearGradient id="b12_1" gradientUnits="userSpaceOnUse" x1="488.6" y1="0" x2="592.1" y2="0" spreadMethod="reflect"><stop offset="0" stop-color="#ff6c6c"/><stop offset="0.2271" stop-color="#ff6c6c"/><stop offset="0.2657" stop-color="#ff6868"/><stop offset="0.2705" stop-color="#ff7676"/><stop offset="0.2754" stop-color="#ff8f8f"/><stop offset="0.2947" stop-color="#ffbcbc"/><stop offset="0.314" stop-color="#ffe3e3"/><stop offset="0.3188" stop-color="#fff4f4"/><stop offset="0.3237" stop-color="#fffcfc"/><stop offset="0.3285" stop-color="#fbfbff"/><stop offset="0.3671" stop-color="#ceceff"/><stop offset="0.4155" stop-color="#b2b2ff"/><stop offset="0.4589" stop-color="#a1a1ff"/><stop offset="0.5459" stop-color="#8787ff"/><stop offset="0.686" stop-color="#6a6aff"/><stop offset="0.7826" stop-color="#5b5bff"/><stop offset="0.8454" stop-color="#5757ff"/><stop offset="0.8599" stop-color="#5b5bff"/><stop offset="0.8696" stop-color="#6969ff"/><stop offset="0.8744" stop-color="#8686ff"/><stop offset="0.913" stop-color="#8d8dff"/><stop offset="1" stop-color="#8a8aff"/></linearGradient>
<linearGradient id="b12_0" gradientUnits="userSpaceOnUse" x1="488.6" y1="0" x2="592.1" y2="0" spreadMethod="reflect"><stop offset="0" stop-color="#ff6c6c"/><stop offset="0.2271" stop-color="#ff6d6d"/><stop offset="0.256" stop-color="#ff7171"/><stop offset="0.2705" stop-color="#ff8080"/><stop offset="0.2754" stop-color="#ff9292"/><stop offset="0.314" stop-color="#ffe1e1"/><stop offset="0.3188" stop-color="#fff2f2"/><stop offset="0.3285" stop-color="#fdfdff"/><stop offset="0.3671" stop-color="#cfcfff"/><stop offset="0.4155" stop-color="#b2b2ff"/><stop offset="0.4589" stop-color="#a1a1ff"/><stop offset="0.5459" stop-color="#8787ff"/><stop offset="0.686" stop-color="#6a6aff"/><stop offset="0.7778" stop-color="#5c5cff"/><stop offset="0.8357" stop-color="#5858ff"/><stop offset="0.8599" stop-color="#5e5eff"/><stop offset="0.8696" stop-color="#6565ff"/><stop offset="0.8841" stop-color="#7e7eff"/><stop offset="0.9034" stop-color="#8a8aff"/><stop offset="0.9324" stop-color="#8d8dff"/><stop offset="1" stop-color="#8989ff"/></linearGradient></defs>
<g clip-path="url(#bc3)">
<rect x="386.6" y="23.5" width="205.1" height="1.6" fill="url(#b3_32)"/>
<rect x="386.6" y="87.9" width="205.1" height="1.6" fill="url(#b3_32)"/>
<rect x="386.6" y="24.5" width="205.1" height="1.6" fill="url(#b3_31)"/>
<rect x="386.6" y="86.9" width="205.1" height="1.6" fill="url(#b3_31)"/>
<rect x="386.6" y="25.5" width="205.1" height="1.6" fill="url(#b3_30)"/>
<rect x="386.6" y="85.9" width="205.1" height="1.6" fill="url(#b3_30)"/>
<rect x="386.6" y="26.5" width="205.1" height="1.6" fill="url(#b3_29)"/>
<rect x="386.6" y="84.9" width="205.1" height="1.6" fill="url(#b3_29)"/>
<rect x="386.6" y="27.5" width="205.1" height="1.6" fill="url(#b3_28)"/>
<rect x="386.6" y="83.9" width="205.1" height="1.6" fill="url(#b3_28)"/>
<rect x="386.6" y="28.5" width="205.1" height="1.6" fill="url(#b3_27)"/>
<rect x="386.6" y="82.9" width="205.1" height="1.6" fill="url(#b3_27)"/>
<rect x="386.6" y="29.5" width="205.1" height="1.6" fill="url(#b3_26)"/>
<rect x="386.6" y="81.9" width="205.1" height="1.6" fill="url(#b3_26)"/>
<rect x="386.6" y="30.5" width="205.1" height="1.6" fill="url(#b3_25)"/>
<rect x="386.6" y="80.9" width="205.1" height="1.6" fill="url(#b3_25)"/>
<rect x="386.6" y="31.5" width="205.1" height="1.6" fill="url(#b3_24)"/>
<rect x="386.6" y="79.9" width="205.1" height="1.6" fill="url(#b3_24)"/>
<rect x="386.6" y="32.5" width="205.1" height="1.6" fill="url(#b3_23)"/>
<rect x="386.6" y="78.9" width="205.1" height="1.6" fill="url(#b3_23)"/>
<rect x="386.6" y="33.5" width="205.1" height="1.6" fill="url(#b3_22)"/>
<rect x="386.6" y="77.9" width="205.1" height="1.6" fill="url(#b3_22)"/>
<rect x="386.6" y="34.5" width="205.1" height="1.6" fill="url(#b3_21)"/>
<rect x="386.6" y="76.9" width="205.1" height="1.6" fill="url(#b3_21)"/>
<rect x="386.6" y="35.5" width="205.1" height="1.6" fill="url(#b3_20)"/>
<rect x="386.6" y="75.9" width="205.1" height="1.6" fill="url(#b3_20)"/>
<rect x="386.6" y="36.5" width="205.1" height="1.6" fill="url(#b3_19)"/>
<rect x="386.6" y="74.9" width="205.1" height="1.6" fill="url(#b3_19)"/>
<rect x="386.6" y="37.5" width="205.1" height="1.6" fill="url(#b3_18)"/>
<rect x="386.6" y="73.9" width="205.1" height="1.6" fill="url(#b3_18)"/>
<rect x="386.6" y="38.5" width="205.1" height="1.6" fill="url(#b3_17)"/>
<rect x="386.6" y="72.9" width="205.1" height="1.6" fill="url(#b3_17)"/>
<rect x="386.6" y="39.5" width="205.1" height="1.6" fill="url(#b3_16)"/>
<rect x="386.6" y="71.9" width="205.1" height="1.6" fill="url(#b3_16)"/>
<rect x="386.6" y="40.5" width="205.1" height="1.6" fill="url(#b3_15)"/>
<rect x="386.6" y="70.9" width="205.1" height="1.6" fill="url(#b3_15)"/>
<rect x="386.6" y="41.5" width="205.1" height="1.6" fill="url(#b3_14)"/>
<rect x="386.6" y="69.9" width="205.1" height="1.6" fill="url(#b3_14)"/>
<rect x="386.6" y="42.5" width="205.1" height="1.6" fill="url(#b3_13)"/>
<rect x="386.6" y="68.9" width="205.1" height="1.6" fill="url(#b3_13)"/>
<rect x="386.6" y="43.5" width="205.1" height="1.6" fill="url(#b3_12)"/>
<rect x="386.6" y="67.9" width="205.1" height="1.6" fill="url(#b3_12)"/>
<rect x="386.6" y="44.5" width="205.1" height="1.6" fill="url(#b3_11)"/>
<rect x="386.6" y="66.9" width="205.1" height="1.6" fill="url(#b3_11)"/>
<rect x="386.6" y="45.5" width="205.1" height="1.6" fill="url(#b3_10)"/>
<rect x="386.6" y="65.9" width="205.1" height="1.6" fill="url(#b3_10)"/>
<rect x="386.6" y="46.5" width="205.1" height="1.6" fill="url(#b3_9)"/>
<rect x="386.6" y="64.9" width="205.1" height="1.6" fill="url(#b3_9)"/>
<rect x="386.6" y="47.5" width="205.1" height="1.6" fill="url(#b3_8)"/>
<rect x="386.6" y="63.9" width="205.1" height="1.6" fill="url(#b3_8)"/>
<rect x="386.6" y="48.5" width="205.1" height="1.6" fill="url(#b3_7)"/>
<rect x="386.6" y="62.9" width="205.1" height="1.6" fill="url(#b3_7)"/>
<rect x="386.6" y="49.5" width="205.1" height="1.6" fill="url(#b3_6)"/>
<rect x="386.6" y="61.9" width="205.1" height="1.6" fill="url(#b3_6)"/>
<rect x="386.6" y="50.5" width="205.1" height="1.6" fill="url(#b3_5)"/>
<rect x="386.6" y="60.9" width="205.1" height="1.6" fill="url(#b3_5)"/>
<rect x="386.6" y="51.5" width="205.1" height="1.6" fill="url(#b3_4)"/>
<rect x="386.6" y="59.9" width="205.1" height="1.6" fill="url(#b3_4)"/>
<rect x="386.6" y="52.5" width="205.1" height="1.6" fill="url(#b3_3)"/>
<rect x="386.6" y="58.9" width="205.1" height="1.6" fill="url(#b3_3)"/>
<rect x="386.6" y="53.5" width="205.1" height="1.6" fill="url(#b3_2)"/>
<rect x="386.6" y="57.9" width="205.1" height="1.6" fill="url(#b3_2)"/>
<rect x="386.6" y="54.5" width="205.1" height="1.6" fill="url(#b3_1)"/>
<rect x="386.6" y="56.9" width="205.1" height="1.6" fill="url(#b3_1)"/>
<rect x="386.6" y="55.5" width="205.1" height="2" fill="url(#b3_0)"/>
</g>
<line x1="398.2" y1="47.46" x2="579" y2="47.46" stroke="#3c3c48" stroke-width="0.55" stroke-opacity="0.85"/>
<line x1="398.2" y1="47.46" x2="398.2" y2="65.54" stroke="#55557a" stroke-width="0.5" stroke-opacity="0.5"/>
<line x1="579" y1="47.46" x2="579" y2="65.54" stroke="#55557a" stroke-width="0.5" stroke-opacity="0.5"/>
<line x1="461.48" y1="47.46" x2="461.48" y2="65.54" stroke="#1a1010" stroke-width="1.3" stroke-dasharray="1.1 1.1" stroke-dashoffset="-0.5"/>
<line x1="515.72" y1="47.46" x2="515.72" y2="65.54" stroke="#1a1010" stroke-width="1.3" stroke-dasharray="1.1 1.1" stroke-dashoffset="-0.5"/>
<text x="391.3" y="40" font-size="14.4"><tspan font-style="italic">d</tspan>/<tspan font-style="italic">t</tspan> = 3</text>
<g clip-path="url(#bc6)">
<rect x="386.6" y="105.2" width="205.1" height="1.6" fill="url(#b6_32)"/>
<rect x="386.6" y="169.6" width="205.1" height="1.6" fill="url(#b6_32)"/>
<rect x="386.6" y="106.2" width="205.1" height="1.6" fill="url(#b6_31)"/>
<rect x="386.6" y="168.6" width="205.1" height="1.6" fill="url(#b6_31)"/>
<rect x="386.6" y="107.2" width="205.1" height="1.6" fill="url(#b6_30)"/>
<rect x="386.6" y="167.6" width="205.1" height="1.6" fill="url(#b6_30)"/>
<rect x="386.6" y="108.2" width="205.1" height="1.6" fill="url(#b6_29)"/>
<rect x="386.6" y="166.6" width="205.1" height="1.6" fill="url(#b6_29)"/>
<rect x="386.6" y="109.2" width="205.1" height="1.6" fill="url(#b6_28)"/>
<rect x="386.6" y="165.6" width="205.1" height="1.6" fill="url(#b6_28)"/>
<rect x="386.6" y="110.2" width="205.1" height="1.6" fill="url(#b6_27)"/>
<rect x="386.6" y="164.6" width="205.1" height="1.6" fill="url(#b6_27)"/>
<rect x="386.6" y="111.2" width="205.1" height="1.6" fill="url(#b6_26)"/>
<rect x="386.6" y="163.6" width="205.1" height="1.6" fill="url(#b6_26)"/>
<rect x="386.6" y="112.2" width="205.1" height="1.6" fill="url(#b6_25)"/>
<rect x="386.6" y="162.6" width="205.1" height="1.6" fill="url(#b6_25)"/>
<rect x="386.6" y="113.2" width="205.1" height="1.6" fill="url(#b6_24)"/>
<rect x="386.6" y="161.6" width="205.1" height="1.6" fill="url(#b6_24)"/>
<rect x="386.6" y="114.2" width="205.1" height="1.6" fill="url(#b6_23)"/>
<rect x="386.6" y="160.6" width="205.1" height="1.6" fill="url(#b6_23)"/>
<rect x="386.6" y="115.2" width="205.1" height="1.6" fill="url(#b6_22)"/>
<rect x="386.6" y="159.6" width="205.1" height="1.6" fill="url(#b6_22)"/>
<rect x="386.6" y="116.2" width="205.1" height="1.6" fill="url(#b6_21)"/>
<rect x="386.6" y="158.6" width="205.1" height="1.6" fill="url(#b6_21)"/>
<rect x="386.6" y="117.2" width="205.1" height="1.6" fill="url(#b6_20)"/>
<rect x="386.6" y="157.6" width="205.1" height="1.6" fill="url(#b6_20)"/>
<rect x="386.6" y="118.2" width="205.1" height="1.6" fill="url(#b6_19)"/>
<rect x="386.6" y="156.6" width="205.1" height="1.6" fill="url(#b6_19)"/>
<rect x="386.6" y="119.2" width="205.1" height="1.6" fill="url(#b6_18)"/>
<rect x="386.6" y="155.6" width="205.1" height="1.6" fill="url(#b6_18)"/>
<rect x="386.6" y="120.2" width="205.1" height="1.6" fill="url(#b6_17)"/>
<rect x="386.6" y="154.6" width="205.1" height="1.6" fill="url(#b6_17)"/>
<rect x="386.6" y="121.2" width="205.1" height="1.6" fill="url(#b6_16)"/>
<rect x="386.6" y="153.6" width="205.1" height="1.6" fill="url(#b6_16)"/>
<rect x="386.6" y="122.2" width="205.1" height="1.6" fill="url(#b6_15)"/>
<rect x="386.6" y="152.6" width="205.1" height="1.6" fill="url(#b6_15)"/>
<rect x="386.6" y="123.2" width="205.1" height="1.6" fill="url(#b6_14)"/>
<rect x="386.6" y="151.6" width="205.1" height="1.6" fill="url(#b6_14)"/>
<rect x="386.6" y="124.2" width="205.1" height="1.6" fill="url(#b6_13)"/>
<rect x="386.6" y="150.6" width="205.1" height="1.6" fill="url(#b6_13)"/>
<rect x="386.6" y="125.2" width="205.1" height="1.6" fill="url(#b6_12)"/>
<rect x="386.6" y="149.6" width="205.1" height="1.6" fill="url(#b6_12)"/>
<rect x="386.6" y="126.2" width="205.1" height="1.6" fill="url(#b6_11)"/>
<rect x="386.6" y="148.6" width="205.1" height="1.6" fill="url(#b6_11)"/>
<rect x="386.6" y="127.2" width="205.1" height="1.6" fill="url(#b6_10)"/>
<rect x="386.6" y="147.6" width="205.1" height="1.6" fill="url(#b6_10)"/>
<rect x="386.6" y="128.2" width="205.1" height="1.6" fill="url(#b6_9)"/>
<rect x="386.6" y="146.6" width="205.1" height="1.6" fill="url(#b6_9)"/>
<rect x="386.6" y="129.2" width="205.1" height="1.6" fill="url(#b6_8)"/>
<rect x="386.6" y="145.6" width="205.1" height="1.6" fill="url(#b6_8)"/>
<rect x="386.6" y="130.2" width="205.1" height="1.6" fill="url(#b6_7)"/>
<rect x="386.6" y="144.6" width="205.1" height="1.6" fill="url(#b6_7)"/>
<rect x="386.6" y="131.2" width="205.1" height="1.6" fill="url(#b6_6)"/>
<rect x="386.6" y="143.6" width="205.1" height="1.6" fill="url(#b6_6)"/>
<rect x="386.6" y="132.2" width="205.1" height="1.6" fill="url(#b6_5)"/>
<rect x="386.6" y="142.6" width="205.1" height="1.6" fill="url(#b6_5)"/>
<rect x="386.6" y="133.2" width="205.1" height="1.6" fill="url(#b6_4)"/>
<rect x="386.6" y="141.6" width="205.1" height="1.6" fill="url(#b6_4)"/>
<rect x="386.6" y="134.2" width="205.1" height="1.6" fill="url(#b6_3)"/>
<rect x="386.6" y="140.6" width="205.1" height="1.6" fill="url(#b6_3)"/>
<rect x="386.6" y="135.2" width="205.1" height="1.6" fill="url(#b6_2)"/>
<rect x="386.6" y="139.6" width="205.1" height="1.6" fill="url(#b6_2)"/>
<rect x="386.6" y="136.2" width="205.1" height="1.6" fill="url(#b6_1)"/>
<rect x="386.6" y="138.6" width="205.1" height="1.6" fill="url(#b6_1)"/>
<rect x="386.6" y="137.2" width="205.1" height="2" fill="url(#b6_0)"/>
</g>
<line x1="454.48" y1="133.68" x2="522.72" y2="133.68" stroke="#502020" stroke-width="0.5" stroke-opacity="0.4"/>
<rect x="398.2" y="133.68" width="180.8" height="9.04" rx="2.2" fill="none" stroke="#5a5ad8" stroke-width="0.5" stroke-opacity="0.35" clip-path="url(#bend)"/>
<line x1="461.48" y1="133.68" x2="461.48" y2="142.72" stroke="#1a1010" stroke-width="1.3" stroke-dasharray="1.1 1.1" stroke-dashoffset="-0.5"/>
<line x1="515.72" y1="133.68" x2="515.72" y2="142.72" stroke="#1a1010" stroke-width="1.3" stroke-dasharray="1.1 1.1" stroke-dashoffset="-0.5"/>
<text x="391.3" y="121.2" font-size="14.4"><tspan font-style="italic">d</tspan>/<tspan font-style="italic">t</tspan> = 6</text>
<g clip-path="url(#bc12)">
<rect x="386.6" y="186.45" width="205.1" height="1.6" fill="url(#b12_32)"/>
<rect x="386.6" y="250.85" width="205.1" height="1.6" fill="url(#b12_32)"/>
<rect x="386.6" y="187.45" width="205.1" height="1.6" fill="url(#b12_31)"/>
<rect x="386.6" y="249.85" width="205.1" height="1.6" fill="url(#b12_31)"/>
<rect x="386.6" y="188.45" width="205.1" height="1.6" fill="url(#b12_30)"/>
<rect x="386.6" y="248.85" width="205.1" height="1.6" fill="url(#b12_30)"/>
<rect x="386.6" y="189.45" width="205.1" height="1.6" fill="url(#b12_29)"/>
<rect x="386.6" y="247.85" width="205.1" height="1.6" fill="url(#b12_29)"/>
<rect x="386.6" y="190.45" width="205.1" height="1.6" fill="url(#b12_28)"/>
<rect x="386.6" y="246.85" width="205.1" height="1.6" fill="url(#b12_28)"/>
<rect x="386.6" y="191.45" width="205.1" height="1.6" fill="url(#b12_27)"/>
<rect x="386.6" y="245.85" width="205.1" height="1.6" fill="url(#b12_27)"/>
<rect x="386.6" y="192.45" width="205.1" height="1.6" fill="url(#b12_26)"/>
<rect x="386.6" y="244.85" width="205.1" height="1.6" fill="url(#b12_26)"/>
<rect x="386.6" y="193.45" width="205.1" height="1.6" fill="url(#b12_25)"/>
<rect x="386.6" y="243.85" width="205.1" height="1.6" fill="url(#b12_25)"/>
<rect x="386.6" y="194.45" width="205.1" height="1.6" fill="url(#b12_24)"/>
<rect x="386.6" y="242.85" width="205.1" height="1.6" fill="url(#b12_24)"/>
<rect x="386.6" y="195.45" width="205.1" height="1.6" fill="url(#b12_23)"/>
<rect x="386.6" y="241.85" width="205.1" height="1.6" fill="url(#b12_23)"/>
<rect x="386.6" y="196.45" width="205.1" height="1.6" fill="url(#b12_22)"/>
<rect x="386.6" y="240.85" width="205.1" height="1.6" fill="url(#b12_22)"/>
<rect x="386.6" y="197.45" width="205.1" height="1.6" fill="url(#b12_21)"/>
<rect x="386.6" y="239.85" width="205.1" height="1.6" fill="url(#b12_21)"/>
<rect x="386.6" y="198.45" width="205.1" height="1.6" fill="url(#b12_20)"/>
<rect x="386.6" y="238.85" width="205.1" height="1.6" fill="url(#b12_20)"/>
<rect x="386.6" y="199.45" width="205.1" height="1.6" fill="url(#b12_19)"/>
<rect x="386.6" y="237.85" width="205.1" height="1.6" fill="url(#b12_19)"/>
<rect x="386.6" y="200.45" width="205.1" height="1.6" fill="url(#b12_18)"/>
<rect x="386.6" y="236.85" width="205.1" height="1.6" fill="url(#b12_18)"/>
<rect x="386.6" y="201.45" width="205.1" height="1.6" fill="url(#b12_17)"/>
<rect x="386.6" y="235.85" width="205.1" height="1.6" fill="url(#b12_17)"/>
<rect x="386.6" y="202.45" width="205.1" height="1.6" fill="url(#b12_16)"/>
<rect x="386.6" y="234.85" width="205.1" height="1.6" fill="url(#b12_16)"/>
<rect x="386.6" y="203.45" width="205.1" height="1.6" fill="url(#b12_15)"/>
<rect x="386.6" y="233.85" width="205.1" height="1.6" fill="url(#b12_15)"/>
<rect x="386.6" y="204.45" width="205.1" height="1.6" fill="url(#b12_14)"/>
<rect x="386.6" y="232.85" width="205.1" height="1.6" fill="url(#b12_14)"/>
<rect x="386.6" y="205.45" width="205.1" height="1.6" fill="url(#b12_13)"/>
<rect x="386.6" y="231.85" width="205.1" height="1.6" fill="url(#b12_13)"/>
<rect x="386.6" y="206.45" width="205.1" height="1.6" fill="url(#b12_12)"/>
<rect x="386.6" y="230.85" width="205.1" height="1.6" fill="url(#b12_12)"/>
<rect x="386.6" y="207.45" width="205.1" height="1.6" fill="url(#b12_11)"/>
<rect x="386.6" y="229.85" width="205.1" height="1.6" fill="url(#b12_11)"/>
<rect x="386.6" y="208.45" width="205.1" height="1.6" fill="url(#b12_10)"/>
<rect x="386.6" y="228.85" width="205.1" height="1.6" fill="url(#b12_10)"/>
<rect x="386.6" y="209.45" width="205.1" height="1.6" fill="url(#b12_9)"/>
<rect x="386.6" y="227.85" width="205.1" height="1.6" fill="url(#b12_9)"/>
<rect x="386.6" y="210.45" width="205.1" height="1.6" fill="url(#b12_8)"/>
<rect x="386.6" y="226.85" width="205.1" height="1.6" fill="url(#b12_8)"/>
<rect x="386.6" y="211.45" width="205.1" height="1.6" fill="url(#b12_7)"/>
<rect x="386.6" y="225.85" width="205.1" height="1.6" fill="url(#b12_7)"/>
<rect x="386.6" y="212.45" width="205.1" height="1.6" fill="url(#b12_6)"/>
<rect x="386.6" y="224.85" width="205.1" height="1.6" fill="url(#b12_6)"/>
<rect x="386.6" y="213.45" width="205.1" height="1.6" fill="url(#b12_5)"/>
<rect x="386.6" y="223.85" width="205.1" height="1.6" fill="url(#b12_5)"/>
<rect x="386.6" y="214.45" width="205.1" height="1.6" fill="url(#b12_4)"/>
<rect x="386.6" y="222.85" width="205.1" height="1.6" fill="url(#b12_4)"/>
<rect x="386.6" y="215.45" width="205.1" height="1.6" fill="url(#b12_3)"/>
<rect x="386.6" y="221.85" width="205.1" height="1.6" fill="url(#b12_3)"/>
<rect x="386.6" y="216.45" width="205.1" height="1.6" fill="url(#b12_2)"/>
<rect x="386.6" y="220.85" width="205.1" height="1.6" fill="url(#b12_2)"/>
<rect x="386.6" y="217.45" width="205.1" height="1.6" fill="url(#b12_1)"/>
<rect x="386.6" y="219.85" width="205.1" height="1.6" fill="url(#b12_1)"/>
<rect x="386.6" y="218.45" width="205.1" height="2" fill="url(#b12_0)"/>
</g>
<line x1="454.48" y1="217.19" x2="522.72" y2="217.19" stroke="#502020" stroke-width="0.5" stroke-opacity="0.4"/>
<rect x="398.2" y="217.19" width="180.8" height="4.52" rx="2.2" fill="none" stroke="#5a5ad8" stroke-width="0.5" stroke-opacity="0.35" clip-path="url(#bend)"/>
<line x1="461.48" y1="217.19" x2="461.48" y2="221.71" stroke="#1a1010" stroke-width="1.3" stroke-dasharray="1.1 1.1" stroke-dashoffset="-0.5"/>
<line x1="515.72" y1="217.19" x2="515.72" y2="221.71" stroke="#1a1010" stroke-width="1.3" stroke-dasharray="1.1 1.1" stroke-dashoffset="-0.5"/>
<text x="391.3" y="202.4" font-size="14.4"><tspan font-style="italic">d</tspan>/<tspan font-style="italic">t</tspan> = 12</text>
<g shape-rendering="crispEdges">
<rect x="622.8" y="25.9" width="18.8" height="6.07" fill="#ff0000"/>
<rect x="622.8" y="31.47" width="18.8" height="6.07" fill="#ff0d0d"/>
<rect x="622.8" y="37.03" width="18.8" height="6.07" fill="#ff1a1a"/>
<rect x="622.8" y="42.6" width="18.8" height="6.07" fill="#ff2727"/>
<rect x="622.8" y="48.17" width="18.8" height="6.07" fill="#ff3434"/>
<rect x="622.8" y="53.74" width="18.8" height="6.07" fill="#ff4141"/>
<rect x="622.8" y="59.3" width="18.8" height="6.07" fill="#ff4e4e"/>
<rect x="622.8" y="64.87" width="18.8" height="6.07" fill="#ff5c5c"/>
<rect x="622.8" y="70.44" width="18.8" height="6.07" fill="#ff6969"/>
<rect x="622.8" y="76.01" width="18.8" height="6.07" fill="#ff7676"/>
<rect x="622.8" y="81.57" width="18.8" height="6.07" fill="#ff8383"/>
<rect x="622.8" y="87.14" width="18.8" height="6.07" fill="#ff9090"/>
<rect x="622.8" y="92.71" width="18.8" height="6.07" fill="#ff9d9d"/>
<rect x="622.8" y="98.28" width="18.8" height="6.07" fill="#ffaaaa"/>
<rect x="622.8" y="103.84" width="18.8" height="6.07" fill="#ffb7b7"/>
<rect x="622.8" y="109.41" width="18.8" height="6.07" fill="#ffc4c4"/>
<rect x="622.8" y="114.98" width="18.8" height="6.07" fill="#ffd1d1"/>
<rect x="622.8" y="120.55" width="18.8" height="6.07" fill="#ffdede"/>
<rect x="622.8" y="126.12" width="18.8" height="6.07" fill="#ffebeb"/>
<rect x="622.8" y="131.68" width="18.8" height="6.07" fill="#fff8f8"/>
<rect x="622.8" y="137.25" width="18.8" height="6.07" fill="#f8f8ff"/>
<rect x="622.8" y="142.82" width="18.8" height="6.07" fill="#ebebff"/>
<rect x="622.8" y="148.38" width="18.8" height="6.07" fill="#dedeff"/>
<rect x="622.8" y="153.95" width="18.8" height="6.07" fill="#d1d1ff"/>
<rect x="622.8" y="159.52" width="18.8" height="6.07" fill="#c4c4ff"/>
<rect x="622.8" y="165.09" width="18.8" height="6.07" fill="#b7b7ff"/>
<rect x="622.8" y="170.66" width="18.8" height="6.07" fill="#aaaaff"/>
<rect x="622.8" y="176.22" width="18.8" height="6.07" fill="#9d9dff"/>
<rect x="622.8" y="181.79" width="18.8" height="6.07" fill="#9090ff"/>
<rect x="622.8" y="187.36" width="18.8" height="6.07" fill="#8383ff"/>
<rect x="622.8" y="192.93" width="18.8" height="6.07" fill="#7676ff"/>
<rect x="622.8" y="198.49" width="18.8" height="6.07" fill="#6969ff"/>
<rect x="622.8" y="204.06" width="18.8" height="6.07" fill="#5c5cff"/>
<rect x="622.8" y="209.63" width="18.8" height="6.07" fill="#4e4eff"/>
<rect x="622.8" y="215.19" width="18.8" height="6.07" fill="#4141ff"/>
<rect x="622.8" y="220.76" width="18.8" height="6.07" fill="#3434ff"/>
<rect x="622.8" y="226.33" width="18.8" height="6.07" fill="#2727ff"/>
<rect x="622.8" y="231.9" width="18.8" height="6.07" fill="#1a1aff"/>
<rect x="622.8" y="237.47" width="18.8" height="6.07" fill="#0d0dff"/>
<rect x="622.8" y="243.03" width="18.8" height="6.07" fill="#0000ff"/>
</g>
<path d="M622.8,25.9 V248.6 H645.6 M622.8,25.9 H645.6" fill="none" stroke="#000" stroke-width="1"/>
<line x1="641.6" y1="25.9" x2="641.6" y2="248.6" stroke="#000" stroke-width="0.6"/>
<text x="651.0" y="31.6">10<tspan font-size="10.4" dy="-5.9">2</tspan></text>
<line x1="641.6" y1="63.02" x2="643.8" y2="63.02" stroke="#000" stroke-width="1"/>
<line x1="641.6" y1="100.13" x2="645.6" y2="100.13" stroke="#000" stroke-width="1"/>
<text x="651.0" y="106.13">10<tspan font-size="10.4" dy="-5.9">0</tspan></text>
<line x1="641.6" y1="137.25" x2="643.8" y2="137.25" stroke="#000" stroke-width="1"/>
<line x1="641.6" y1="174.37" x2="645.6" y2="174.37" stroke="#000" stroke-width="1"/>
<text x="651.0" y="180.67">10<tspan font-size="8.2" dy="-6.8">−</tspan><tspan font-size="10.4" dy="0.9">2</tspan></text>
<line x1="641.6" y1="211.48" x2="643.8" y2="211.48" stroke="#000" stroke-width="1"/>
<text x="651.0" y="255.2">10<tspan font-size="8.2" dy="-6.8">−</tspan><tspan font-size="10.4" dy="0.9">4</tspan></text>
<text x="355.6" y="12.9" font-weight="bold">b</text>
<text x="677.3" y="12.6" text-anchor="end" font-size="14.15">Electric Field (MV m<tspan font-size="10.4" dy="-5.9">-1</tspan><tspan dy="5.9">)</tspan></text>
<clipPath id="cclip"><rect x="49.8" y="270.3" width="243" height="194"/></clipPath>
<rect x="49.8" y="270.3" width="40.3" height="194" fill="#b3b3ff"/>
<rect x="90.1" y="270.3" width="56.4" height="194" fill="#d9d9d9"/>
<rect x="146.5" y="270.3" width="48.6" height="194" fill="#ff9999"/>
<rect x="195.1" y="270.3" width="56.9" height="194" fill="#d9d9d9"/>
<rect x="252" y="270.3" width="40.8" height="194" fill="#b3b3ff"/>
<g clip-path="url(#cclip)">
<path d="M47,418.6 L48,418.37 L49,418.13 L50,417.9 L51.36,417.58 L52.73,417.27 L54.09,416.95 L55.46,416.63 L56.82,416.32 L58.18,416 L59.55,415.68 L60.91,415.37 L62.28,415.05 L63.64,414.72 L65,414.4 L66.43,414.05 L67.86,413.71 L69.29,413.35 L70.72,413 L72.15,412.64 L73.58,412.29 L75.01,411.93 L76.44,411.58 L77.87,411.24 L79.3,410.9 L80.4,410.59 L81.5,410.4 L82.55,410.59 L83.5,411 L84.31,411.74 L85,412.7 L85.73,413.82 L86.38,415 L87,416.2 L87.63,417.52 L88.23,418.85 L88.8,420.2 L89.25,421.35 L89.7,422.5 L90.21,423.79 L90.8,425 L91.48,425.88 L92.3,426.6 L93.36,427.2 L94.5,427.5 L95.76,427.1 L97,426.4 L98.26,425.71 L99.48,424.96 L100.69,424.18 L101.9,423.4 L103.07,422.66 L104.23,421.91 L105.39,421.15 L106.54,420.38 L107.68,419.6 L108.8,418.8 L109.98,417.93 L111.16,417.04 L112.32,416.13 L113.47,415.21 L114.59,414.26 L115.7,413.3 L116.73,412.37 L117.76,411.42 L118.78,410.45 L119.77,409.47 L120.75,408.47 L121.69,407.44 L122.6,406.4 L123.55,405.26 L124.48,404.1 L125.4,402.92 L126.3,401.71 L127.16,400.48 L127.98,399.24 L128.77,397.98 L129.5,396.7 L130.16,395.46 L130.78,394.2 L131.39,392.92 L131.96,391.62 L132.52,390.3 L133.06,388.98 L133.58,387.65 L134.1,386.33 L134.6,385 L135.08,383.68 L135.55,382.35 L135.99,381.02 L136.43,379.68 L136.86,378.34 L137.3,377 L137.74,375.7 L138.18,374.41 L138.62,373.12 L139.05,371.82 L139.44,370.51 L139.8,369.2 L140.14,367.8 L140.45,366.4 L140.75,364.98 L141.03,363.56 L141.29,362.14 L141.55,360.72 L141.8,359.3 L142.04,357.89 L142.26,356.48 L142.47,355.06 L142.68,353.65 L142.88,352.23 L143.09,350.81 L143.3,349.4 L143.5,348 L143.69,346.59 L143.87,345.18 L144.07,343.77 L144.28,342.37 L144.52,340.98 L144.8,339.6 L145.08,338.46 L145.44,337.34 L145.9,336.3 L146.38,335.55 L147,335 L147.95,334.66 L149,334.5 L150.41,334.48 L151.83,334.47 L153.25,334.46 L154.67,334.44 L156.09,334.43 L157.52,334.43 L158.96,334.42 L160.39,334.41 L161.84,334.41 L163.28,334.41 L164.73,334.4 L166.19,334.4 L167.65,334.4 L169.12,334.4 L170.6,334.4 L172.08,334.4 L173.55,334.4 L175.01,334.4 L176.47,334.4 L177.92,334.41 L179.36,334.41 L180.81,334.41 L182.24,334.42 L183.68,334.43 L185.11,334.43 L186.53,334.44 L187.95,334.46 L189.37,334.47 L190.79,334.48 L192.2,334.5 L193.25,334.66 L194.2,335 L194.82,335.55 L195.3,336.3 L195.76,337.34 L196.12,338.46 L196.4,339.6 L196.68,340.98 L196.92,342.37 L197.13,343.77 L197.33,345.18 L197.51,346.59 L197.7,348 L197.9,349.4 L198.11,350.81 L198.32,352.23 L198.52,353.65 L198.73,355.06 L198.94,356.48 L199.16,357.89 L199.4,359.3 L199.65,360.72 L199.91,362.14 L200.17,363.56 L200.45,364.98 L200.75,366.4 L201.06,367.8 L201.4,369.2 L201.76,370.51 L202.15,371.82 L202.58,373.12 L203.02,374.41 L203.46,375.7 L203.9,377 L204.34,378.34 L204.77,379.68 L205.21,381.02 L205.65,382.35 L206.12,383.68 L206.6,385 L207.1,386.33 L207.62,387.65 L208.14,388.98 L208.68,390.3 L209.24,391.62 L209.81,392.92 L210.42,394.2 L211.04,395.46 L211.7,396.7 L212.43,397.98 L213.22,399.24 L214.04,400.48 L214.9,401.71 L215.8,402.92 L216.72,404.1 L217.65,405.26 L218.6,406.4 L219.51,407.44 L220.45,408.47 L221.43,409.47 L222.42,410.45 L223.44,411.42 L224.47,412.37 L225.5,413.3 L226.61,414.26 L227.73,415.21 L228.88,416.13 L230.04,417.04 L231.22,417.93 L232.4,418.8 L233.52,419.6 L234.66,420.38 L235.81,421.15 L236.97,421.91 L238.13,422.66 L239.3,423.4 L240.51,424.18 L241.72,424.96 L242.94,425.71 L244.2,426.4 L245.44,427.1 L246.7,427.5 L247.84,427.2 L248.9,426.6 L249.72,425.88 L250.4,425 L250.99,423.79 L251.5,422.5 L251.95,421.35 L252.4,420.2 L252.97,418.85 L253.57,417.52 L254.2,416.2 L254.82,415 L255.47,413.82 L256.2,412.7 L256.89,411.74 L257.7,411 L258.65,410.59 L259.7,410.4 L260.8,410.59 L261.9,410.9 L263.33,411.24 L264.76,411.58 L266.19,411.93 L267.62,412.29 L269.05,412.64 L270.48,413 L271.91,413.35 L273.34,413.71 L274.77,414.05 L276.2,414.4 L277.56,414.72 L278.92,415.05 L280.29,415.37 L281.65,415.68 L283.02,416 L284.38,416.32 L285.74,416.63 L287.11,416.95 L288.47,417.27 L289.84,417.58 L291.2,417.9 L292.2,418.13 L293.2,418.37 L294.2,418.6" fill="none" stroke="#0000ff" stroke-width="1.6" stroke-linejoin="round"/>
<path d="M47,428.15 L48,427.87 L49,427.58 L50,427.3 L51.33,426.92 L52.67,426.55 L54,426.18 L55.33,425.8 L56.67,425.43 L58,425.06 L59.34,424.69 L60.67,424.31 L62,423.94 L63.34,423.56 L64.67,423.18 L66,422.8 L67.39,422.38 L68.78,421.94 L70.16,421.47 L71.54,421 L72.92,420.52 L74.31,420.05 L75.69,419.6 L77.08,419.17 L78.47,418.78 L79.87,418.43 L81.28,418.14 L82.7,417.9 L84.15,417.7 L85.5,417.6 L86.62,418.28 L87.5,419.5 L88.03,420.58 L88.44,421.78 L88.8,423 L89.13,424.29 L89.42,425.59 L89.7,426.9 L89.97,428.18 L90.23,429.46 L90.5,430.73 L90.8,432 L91.08,433.13 L91.4,434.25 L91.8,435.3 L92.11,435.84 L92.5,436.3 L93.2,436.83 L94,437.1 L95,436.93 L96,436.6 L97.22,436.14 L98.42,435.58 L99.6,434.94 L100.76,434.27 L101.9,433.6 L103.09,432.88 L104.25,432.13 L105.41,431.35 L106.55,430.54 L107.68,429.72 L108.8,428.9 L109.98,428.02 L111.14,427.13 L112.3,426.21 L113.45,425.29 L114.58,424.35 L115.7,423.4 L116.72,422.52 L117.73,421.63 L118.73,420.74 L119.73,419.82 L120.71,418.9 L121.66,417.96 L122.6,417 L123.52,416.03 L124.43,415.04 L125.34,414.04 L126.22,413.03 L127.09,412 L127.93,410.95 L128.73,409.88 L129.5,408.8 L130.27,407.66 L131.03,406.51 L131.78,405.33 L132.52,404.14 L133.22,402.93 L133.9,401.71 L134.55,400.47 L135.15,399.22 L135.7,397.97 L136.2,396.7 L136.64,395.45 L137.05,394.18 L137.44,392.89 L137.8,391.59 L138.15,390.28 L138.48,388.96 L138.79,387.64 L139.1,386.32 L139.4,385 L139.67,383.81 L139.92,382.61 L140.17,381.41 L140.39,380.21 L140.6,379 L140.82,377.61 L141.02,376.21 L141.21,374.81 L141.39,373.41 L141.56,372.01 L141.73,370.6 L141.9,369.2 L142.07,367.79 L142.23,366.37 L142.38,364.96 L142.54,363.54 L142.69,362.13 L142.84,360.71 L143,359.3 L143.16,357.89 L143.31,356.47 L143.46,355.06 L143.62,353.64 L143.77,352.23 L143.93,350.81 L144.1,349.4 L144.27,348 L144.43,346.59 L144.59,345.19 L144.77,343.78 L144.95,342.38 L145.16,340.99 L145.4,339.6 L145.63,338.35 L145.9,337.11 L146.3,336 L146.81,335.29 L147.5,334.8 L148.22,334.59 L149,334.5 L150.42,334.5 L151.85,334.5 L153.27,334.5 L154.7,334.5 L156.13,334.5 L157.56,334.5 L159,334.5 L160.44,334.5 L161.88,334.5 L163.32,334.5 L164.77,334.5 L166.22,334.5 L167.68,334.5 L169.14,334.5 L170.6,334.5 L172.06,334.5 L173.52,334.5 L174.98,334.5 L176.43,334.5 L177.88,334.5 L179.32,334.5 L180.76,334.5 L182.2,334.5 L183.64,334.5 L185.07,334.5 L186.5,334.5 L187.93,334.5 L189.35,334.5 L190.78,334.5 L192.2,334.5 L192.98,334.59 L193.7,334.8 L194.39,335.29 L194.9,336 L195.3,337.11 L195.57,338.35 L195.8,339.6 L196.04,340.99 L196.25,342.38 L196.43,343.78 L196.61,345.19 L196.77,346.59 L196.93,348 L197.1,349.4 L197.27,350.81 L197.43,352.23 L197.58,353.64 L197.74,355.06 L197.89,356.47 L198.04,357.89 L198.2,359.3 L198.36,360.71 L198.51,362.13 L198.66,363.54 L198.82,364.96 L198.97,366.37 L199.13,367.79 L199.3,369.2 L199.47,370.6 L199.64,372.01 L199.81,373.41 L199.99,374.81 L200.18,376.21 L200.38,377.61 L200.6,379 L200.81,380.21 L201.03,381.41 L201.28,382.61 L201.53,383.81 L201.8,385 L202.1,386.32 L202.41,387.64 L202.72,388.96 L203.05,390.28 L203.4,391.59 L203.76,392.89 L204.15,394.18 L204.56,395.45 L205,396.7 L205.5,397.97 L206.05,399.22 L206.65,400.47 L207.3,401.71 L207.98,402.93 L208.68,404.14 L209.42,405.33 L210.17,406.51 L210.93,407.66 L211.7,408.8 L212.47,409.88 L213.27,410.95 L214.11,412 L214.98,413.03 L215.86,414.04 L216.77,415.04 L217.68,416.03 L218.6,417 L219.54,417.96 L220.49,418.9 L221.47,419.82 L222.47,420.74 L223.47,421.63 L224.48,422.52 L225.5,423.4 L226.62,424.35 L227.75,425.29 L228.9,426.21 L230.06,427.13 L231.22,428.02 L232.4,428.9 L233.52,429.72 L234.65,430.54 L235.79,431.35 L236.95,432.13 L238.11,432.88 L239.3,433.6 L240.44,434.27 L241.6,434.94 L242.78,435.58 L243.98,436.14 L245.2,436.6 L246.2,436.93 L247.2,437.1 L248,436.83 L248.7,436.3 L249.09,435.84 L249.4,435.3 L249.8,434.25 L250.12,433.13 L250.4,432 L250.7,430.73 L250.97,429.46 L251.23,428.18 L251.5,426.9 L251.78,425.59 L252.07,424.29 L252.4,423 L252.76,421.78 L253.17,420.58 L253.7,419.5 L254.58,418.28 L255.7,417.6 L257.05,417.7 L258.5,417.9 L259.92,418.14 L261.33,418.43 L262.73,418.78 L264.12,419.17 L265.51,419.6 L266.89,420.05 L268.28,420.52 L269.66,421 L271.04,421.47 L272.42,421.94 L273.81,422.38 L275.2,422.8 L276.53,423.18 L277.86,423.56 L279.2,423.94 L280.53,424.31 L281.86,424.69 L283.2,425.06 L284.53,425.43 L285.87,425.8 L287.2,426.18 L288.53,426.55 L289.87,426.92 L291.2,427.3 L292.2,427.58 L293.2,427.87 L294.2,428.15" fill="none" stroke="#ff0000" stroke-width="1.6" stroke-linejoin="round"/>
<path d="M47,440.5 L48,440.2 L49,439.9 L50,439.6 L51.33,439.2 L52.67,438.8 L54,438.41 L55.34,438.01 L56.67,437.61 L58,437.22 L59.34,436.82 L60.67,436.42 L62.01,436.02 L63.34,435.61 L64.67,435.21 L66,434.8 L67.4,434.37 L68.79,433.94 L70.19,433.51 L71.58,433.08 L72.98,432.65 L74.37,432.22 L75.77,431.78 L77.16,431.34 L78.55,430.89 L79.93,430.43 L81.32,429.97 L82.7,429.5 L83.84,429.02 L84.97,428.53 L86,428.3 L87.03,428.91 L87.8,430 L88.27,431.22 L88.62,432.61 L88.9,434 L89.14,435.24 L89.36,436.49 L89.54,437.74 L89.7,439 L89.84,440.4 L89.94,441.8 L90.04,443.2 L90.15,444.61 L90.3,446 L90.48,447.47 L90.72,448.93 L91.1,450.2 L91.56,450.84 L92.2,451.2 L93.09,450.92 L94.05,450.32 L95,449.7 L96.16,449.06 L97.32,448.43 L98.47,447.78 L99.62,447.13 L100.76,446.47 L101.9,445.8 L103.07,445.1 L104.23,444.38 L105.39,443.66 L106.54,442.92 L107.68,442.17 L108.8,441.4 L109.98,440.56 L111.15,439.7 L112.3,438.82 L113.45,437.93 L114.58,437.02 L115.7,436.1 L116.72,435.25 L117.73,434.39 L118.73,433.52 L119.72,432.64 L120.7,431.74 L121.66,430.83 L122.6,429.9 L123.64,428.83 L124.67,427.74 L125.69,426.63 L126.68,425.5 L127.65,424.35 L128.59,423.18 L129.5,422 L130.34,420.86 L131.17,419.7 L131.99,418.53 L132.79,417.34 L133.57,416.14 L134.33,414.92 L135.05,413.69 L135.74,412.45 L136.4,411.2 L137.07,409.88 L137.74,408.54 L138.4,407.18 L139.04,405.82 L139.64,404.43 L140.2,403.04 L140.71,401.64 L141.14,400.22 L141.5,398.8 L141.79,397.42 L142.04,396.02 L142.28,394.61 L142.48,393.18 L142.67,391.75 L142.84,390.32 L143,388.9 L143.14,387.49 L143.27,386.08 L143.38,384.66 L143.49,383.25 L143.59,381.83 L143.7,380.42 L143.8,379 L143.91,377.6 L144.01,376.2 L144.11,374.8 L144.21,373.4 L144.31,372 L144.41,370.6 L144.5,369.2 L144.59,367.79 L144.68,366.37 L144.76,364.96 L144.85,363.54 L144.93,362.13 L145.02,360.71 L145.1,359.3 L145.18,357.89 L145.27,356.47 L145.35,355.06 L145.44,353.64 L145.52,352.23 L145.61,350.81 L145.7,349.4 L145.79,348 L145.87,346.6 L145.95,345.19 L146.04,343.79 L146.14,342.39 L146.26,340.99 L146.4,339.6 L146.54,338.43 L146.72,337.26 L147,336.2 L147.41,335.49 L148,335 L148.71,334.79 L149.5,334.7 L150.89,334.7 L152.28,334.7 L153.67,334.7 L155.07,334.7 L156.47,334.7 L157.87,334.7 L159.27,334.7 L160.67,334.7 L162.08,334.7 L163.49,334.7 L164.9,334.7 L166.32,334.7 L167.74,334.7 L169.17,334.7 L170.6,334.7 L172.03,334.7 L173.46,334.7 L174.88,334.7 L176.3,334.7 L177.71,334.7 L179.12,334.7 L180.53,334.7 L181.93,334.7 L183.33,334.7 L184.73,334.7 L186.13,334.7 L187.53,334.7 L188.92,334.7 L190.31,334.7 L191.7,334.7 L192.49,334.79 L193.2,335 L193.79,335.49 L194.2,336.2 L194.48,337.26 L194.66,338.43 L194.8,339.6 L194.94,340.99 L195.06,342.39 L195.16,343.79 L195.25,345.19 L195.33,346.6 L195.41,348 L195.5,349.4 L195.59,350.81 L195.68,352.23 L195.76,353.64 L195.85,355.06 L195.93,356.47 L196.02,357.89 L196.1,359.3 L196.18,360.71 L196.27,362.13 L196.35,363.54 L196.44,364.96 L196.52,366.37 L196.61,367.79 L196.7,369.2 L196.79,370.6 L196.89,372 L196.99,373.4 L197.09,374.8 L197.19,376.2 L197.29,377.6 L197.4,379 L197.5,380.42 L197.61,381.83 L197.71,383.25 L197.82,384.66 L197.93,386.08 L198.06,387.49 L198.2,388.9 L198.36,390.32 L198.53,391.75 L198.72,393.18 L198.92,394.61 L199.16,396.02 L199.41,397.42 L199.7,398.8 L200.06,400.22 L200.49,401.64 L201,403.04 L201.56,404.43 L202.16,405.82 L202.8,407.18 L203.46,408.54 L204.13,409.88 L204.8,411.2 L205.46,412.45 L206.15,413.69 L206.87,414.92 L207.63,416.14 L208.41,417.34 L209.21,418.53 L210.03,419.7 L210.86,420.86 L211.7,422 L212.61,423.18 L213.55,424.35 L214.52,425.5 L215.51,426.63 L216.53,427.74 L217.56,428.83 L218.6,429.9 L219.54,430.83 L220.5,431.74 L221.48,432.64 L222.47,433.52 L223.47,434.39 L224.48,435.25 L225.5,436.1 L226.62,437.02 L227.75,437.93 L228.9,438.82 L230.05,439.7 L231.22,440.56 L232.4,441.4 L233.52,442.17 L234.66,442.92 L235.81,443.66 L236.97,444.38 L238.13,445.1 L239.3,445.8 L240.44,446.47 L241.58,447.13 L242.73,447.78 L243.88,448.43 L245.04,449.06 L246.2,449.7 L247.15,450.32 L248.11,450.92 L249,451.2 L249.64,450.84 L250.1,450.2 L250.48,448.93 L250.72,447.47 L250.9,446 L251.05,444.61 L251.16,443.2 L251.26,441.8 L251.36,440.4 L251.5,439 L251.66,437.74 L251.84,436.49 L252.06,435.24 L252.3,434 L252.58,432.61 L252.93,431.22 L253.4,430 L254.17,428.91 L255.2,428.3 L256.23,428.53 L257.36,429.02 L258.5,429.5 L259.88,429.97 L261.27,430.43 L262.65,430.89 L264.04,431.34 L265.43,431.78 L266.83,432.22 L268.22,432.65 L269.62,433.08 L271.01,433.51 L272.41,433.94 L273.8,434.37 L275.2,434.8 L276.53,435.21 L277.86,435.61 L279.19,436.02 L280.53,436.42 L281.86,436.82 L283.2,437.22 L284.53,437.61 L285.86,438.01 L287.2,438.41 L288.53,438.8 L289.87,439.2 L291.2,439.6 L292.2,439.9 L293.2,440.2 L294.2,440.5" fill="none" stroke="#6400c0" stroke-width="1.6" stroke-linejoin="round"/>
<path d="M47,418.6 L48,418.37 L49,418.13 L50,417.9 L51.36,417.58 L52.73,417.27 L54.09,416.95 L55.46,416.63 L56.82,416.32 L58.18,416 L59.55,415.68 L60.91,415.37 L62.28,415.05 L63.64,414.72 L65,414.4 L66.43,414.06 L67.86,413.71 L69.29,413.37 L70.73,413.02 L72.16,412.68 L73.59,412.33 L75.02,411.98 L76.45,411.62 L77.87,411.26 L79.3,410.9 L80.74,410.56 L82.19,410.22 L83.62,409.85 L85,409.4 L86.12,408.92 L87.1,408.3 L87.92,407.39 L88.5,406.3 L88.88,404.93 L89.15,403.47 L89.3,402 L89.36,400.45 L89.4,398.69 L89.44,397.02 L89.47,395.78 L89.5,395.3 L89.54,395.78 L89.58,397.02 L89.62,398.68 L89.66,400.45 L89.7,402 L89.74,403.44 L89.77,404.89 L89.8,406.33 L89.82,407.78 L89.85,409.22 L89.88,410.67 L89.92,412.11 L89.95,413.56 L90,415 L90.05,416.41 L90.1,417.82 L90.17,419.23 L90.25,420.64 L90.36,422.03 L90.5,423.4 L90.7,424.46 L91.04,425.5 L91.5,426.3 L92.39,426.97 L93.5,427.3 L94.25,427.04 L95,426.6 L96.16,426.08 L97.32,425.56 L98.49,425.05 L99.64,424.53 L100.78,423.98 L101.9,423.4 L103.09,422.71 L104.26,421.98 L105.41,421.21 L106.55,420.42 L107.68,419.61 L108.8,418.8 L109.98,417.93 L111.16,417.04 L112.32,416.13 L113.47,415.21 L114.59,414.26 L115.7,413.3 L116.73,412.37 L117.76,411.42 L118.78,410.45 L119.77,409.47 L120.75,408.47 L121.69,407.44 L122.6,406.4 L123.55,405.26 L124.48,404.1 L125.4,402.92 L126.3,401.71 L127.16,400.48 L127.98,399.24 L128.77,397.98 L129.5,396.7 L130.16,395.46 L130.78,394.2 L131.39,392.92 L131.96,391.62 L132.52,390.3 L133.06,388.98 L133.58,387.65 L134.1,386.33 L134.6,385 L135.08,383.68 L135.55,382.35 L135.99,381.02 L136.43,379.68 L136.86,378.34 L137.3,377 L137.74,375.7 L138.18,374.41 L138.62,373.12 L139.05,371.82 L139.44,370.51 L139.8,369.2 L140.14,367.8 L140.45,366.4 L140.75,364.98 L141.03,363.56 L141.29,362.14 L141.55,360.72 L141.8,359.3 L142.04,357.89 L142.26,356.48 L142.47,355.06 L142.68,353.65 L142.88,352.23 L143.09,350.81 L143.3,349.4 L143.51,348 L143.73,346.6 L143.95,345.2 L144.16,343.8 L144.38,342.4 L144.59,341 L144.8,339.6 L145.02,338.22 L145.26,336.84 L145.48,335.47 L145.67,334.08 L145.8,332.7 L145.88,331.42 L145.95,330.14 L146,328.86 L146.05,327.57 L146.09,326.28 L146.12,325 L146.15,323.4 L146.17,321.56 L146.18,319.67 L146.2,317.89 L146.22,316.4 L146.23,315.38 L146.25,315 L146.27,315.38 L146.28,316.4 L146.3,317.89 L146.32,319.67 L146.34,321.56 L146.37,323.4 L146.4,325 L146.46,326.39 L146.56,327.78 L146.71,329.16 L146.9,330.5 L147.31,332.01 L148,333.2 L149.11,333.87 L150.5,334.2 L151.87,334.22 L153.25,334.23 L154.64,334.25 L156.03,334.26 L157.44,334.27 L158.85,334.28 L160.28,334.28 L161.71,334.29 L163.16,334.29 L164.62,334.3 L166.09,334.3 L167.58,334.3 L169.08,334.3 L170.6,334.3 L172.12,334.3 L173.62,334.3 L175.11,334.3 L176.58,334.3 L178.04,334.29 L179.49,334.29 L180.92,334.28 L182.35,334.28 L183.76,334.27 L185.17,334.26 L186.56,334.25 L187.95,334.23 L189.33,334.22 L190.7,334.2 L192.09,333.87 L193.2,333.2 L193.89,332.01 L194.3,330.5 L194.49,329.16 L194.64,327.78 L194.74,326.39 L194.8,325 L194.83,323.4 L194.86,321.56 L194.88,319.67 L194.9,317.89 L194.92,316.4 L194.93,315.38 L194.95,315 L194.97,315.38 L194.98,316.4 L195,317.89 L195.02,319.67 L195.03,321.56 L195.05,323.4 L195.08,325 L195.11,326.28 L195.15,327.57 L195.2,328.86 L195.25,330.14 L195.32,331.42 L195.4,332.7 L195.53,334.08 L195.72,335.47 L195.94,336.84 L196.18,338.22 L196.4,339.6 L196.61,341 L196.82,342.4 L197.04,343.8 L197.25,345.2 L197.47,346.6 L197.69,348 L197.9,349.4 L198.11,350.81 L198.32,352.23 L198.52,353.65 L198.73,355.06 L198.94,356.48 L199.16,357.89 L199.4,359.3 L199.65,360.72 L199.91,362.14 L200.17,363.56 L200.45,364.98 L200.75,366.4 L201.06,367.8 L201.4,369.2 L201.76,370.51 L202.15,371.82 L202.58,373.12 L203.02,374.41 L203.46,375.7 L203.9,377 L204.34,378.34 L204.77,379.68 L205.21,381.02 L205.65,382.35 L206.12,383.68 L206.6,385 L207.1,386.33 L207.62,387.65 L208.14,388.98 L208.68,390.3 L209.24,391.62 L209.81,392.92 L210.42,394.2 L211.04,395.46 L211.7,396.7 L212.43,397.98 L213.22,399.24 L214.04,400.48 L214.9,401.71 L215.8,402.92 L216.72,404.1 L217.65,405.26 L218.6,406.4 L219.51,407.44 L220.45,408.47 L221.43,409.47 L222.42,410.45 L223.44,411.42 L224.47,412.37 L225.5,413.3 L226.61,414.26 L227.73,415.21 L228.88,416.13 L230.04,417.04 L231.22,417.93 L232.4,418.8 L233.52,419.61 L234.65,420.42 L235.79,421.21 L236.94,421.98 L238.11,422.71 L239.3,423.4 L240.42,423.98 L241.56,424.53 L242.71,425.05 L243.88,425.56 L245.04,426.08 L246.2,426.6 L246.95,427.04 L247.7,427.3 L248.81,426.97 L249.7,426.3 L250.16,425.5 L250.5,424.46 L250.7,423.4 L250.84,422.03 L250.95,420.64 L251.03,419.23 L251.1,417.82 L251.15,416.41 L251.2,415 L251.25,413.56 L251.28,412.11 L251.32,410.67 L251.35,409.22 L251.38,407.78 L251.4,406.33 L251.43,404.89 L251.46,403.44 L251.5,402 L251.54,400.45 L251.58,398.68 L251.62,397.02 L251.66,395.78 L251.7,395.3 L251.73,395.78 L251.76,397.02 L251.8,398.69 L251.84,400.45 L251.9,402 L252.05,403.47 L252.32,404.93 L252.7,406.3 L253.28,407.39 L254.1,408.3 L255.08,408.92 L256.2,409.4 L257.58,409.85 L259.01,410.22 L260.46,410.56 L261.9,410.9 L263.33,411.26 L264.75,411.62 L266.18,411.98 L267.61,412.33 L269.04,412.68 L270.47,413.02 L271.91,413.37 L273.34,413.71 L274.77,414.06 L276.2,414.4 L277.56,414.72 L278.92,415.05 L280.29,415.37 L281.65,415.68 L283.02,416 L284.38,416.32 L285.74,416.63 L287.11,416.95 L288.47,417.27 L289.84,417.58 L291.2,417.9 L292.2,418.13 L293.2,418.37 L294.2,418.6" fill="none" stroke="#000000" stroke-width="1.6" stroke-linejoin="round"/>
</g>
<circle cx="97.7" cy="317.3" r="43.7" fill="#dfe0e0" stroke="#2e2020" stroke-width="1.1"/>
<rect x="83" y="306.2" width="29.2" height="2.4" fill="#f6e616" stroke="#3a2c10" stroke-width="0.8"/>
<rect x="83" y="325.6" width="29.2" height="2.6" fill="#f6e616" stroke="#3a2c10" stroke-width="0.8"/>
<rect x="68.3" y="308.5" width="58.2" height="17.1" fill="#7dbde2" stroke="#2e2020" stroke-width="1.1"/>
<g stroke="#2e2020" stroke-width="1.1"><line x1="54.6" y1="308.5" x2="136" y2="308.5"/><line x1="54.1" y1="317.3" x2="137" y2="317.3"/>
<line x1="97.8" y1="314.6" x2="97.8" y2="334.2" stroke-dasharray="2.2 1"/></g>
<polygon points="139.7,308.5 134.1,310.9 134.1,306.1" fill="#2e1e1e"/>
<polygon points="141,317.3 135.4,319.7 135.4,314.9" fill="#2e1e1e"/>
<g font-size="10" fill="#1c1c1c"><text x="62.4" y="306.9">L1</text><text x="56.3" y="326.6">L2</text><text x="129.2" y="326.2" font-style="italic" font-size="10.5">x</text><text x="95" y="345" font-size="11">0</text></g>
<g stroke="#000" fill="none">
<path d="M49.7,270.3 V464.6 H292.8" stroke-width="1.3"/>
<path d="M49.8,270.3 H292.8 V464.3" stroke-width="0.8" stroke="#333"/>
<path d="M49.8,464.3 h4.2 M49.8,455.96 h2.3 M49.8,451.08 h2.3 M49.8,447.61 h2.3 M49.8,444.93 h2.3 M49.8,442.73 h2.3 M49.8,440.88 h2.3 M49.8,439.27 h2.3 M49.8,437.85 h2.3 M49.8,436.59 h4.2 M49.8,428.24 h2.3 M49.8,423.36 h2.3 M49.8,419.9 h2.3 M49.8,417.21 h2.3 M49.8,415.02 h2.3 M49.8,413.16 h2.3 M49.8,411.56 h2.3 M49.8,410.14 h2.3 M49.8,408.87 h4.2 M49.8,400.53 h2.3 M49.8,395.65 h2.3 M49.8,392.19 h2.3 M49.8,389.5 h2.3 M49.8,387.31 h2.3 M49.8,385.45 h2.3 M49.8,383.84 h2.3 M49.8,382.43 h2.3 M49.8,381.16 h4.2 M49.8,372.81 h2.3 M49.8,367.93 h2.3 M49.8,364.47 h2.3 M49.8,361.79 h2.3 M49.8,359.59 h2.3 M49.8,357.74 h2.3 M49.8,356.13 h2.3 M49.8,354.71 h2.3 M49.8,353.44 h4.2 M49.8,345.1 h2.3 M49.8,340.22 h2.3 M49.8,336.76 h2.3 M49.8,334.07 h2.3 M49.8,331.88 h2.3 M49.8,330.02 h2.3 M49.8,328.41 h2.3 M49.8,327 h2.3 M49.8,325.73 h4.2 M49.8,317.39 h2.3 M49.8,312.51 h2.3 M49.8,309.04 h2.3 M49.8,306.36 h2.3 M49.8,304.16 h2.3 M49.8,302.31 h2.3 M49.8,300.7 h2.3 M49.8,299.28 h2.3 M49.8,298.01 h4.2 M49.8,289.67 h2.3 M49.8,284.79 h2.3 M49.8,281.33 h2.3 M49.8,278.64 h2.3 M49.8,276.45 h2.3 M49.8,274.59 h2.3 M49.8,272.99 h2.3 M49.8,271.57 h2.3" stroke-width="1"/>
<path d="M90.3,464.3 v-4 M171.3,464.3 v-4 M252.3,464.3 v-4 M130.8,464.3 v-2.2 M211.8,464.3 v-2.2" stroke-width="1"/>
</g>
<text x="25.2" y="304.61">10<tspan font-size="9.8" dy="-5.9">2</tspan></text>
<text x="25.2" y="360.94">10<tspan font-size="9.8" dy="-5.9">0</tspan></text>
<text x="20.4" y="416.77">10<tspan font-size="7.8" dy="-6.7">−</tspan><tspan font-size="9.8" dy="0.8">2</tspan></text>
<text x="20.4" y="472.5">10<tspan font-size="7.8" dy="-6.7">−</tspan><tspan font-size="9.8" dy="0.8">4</tspan></text>
<text x="90.3" y="480.6" text-anchor="middle">−5</text>
<text x="171.3" y="480.6" text-anchor="middle">0</text>
<text x="252.3" y="480.6" text-anchor="middle">5</text>
<text x="171.6" y="504.2" text-anchor="middle"><tspan font-style="italic">x</tspan>-direction (mm)</text>
<text transform="translate(13.2,367.3) rotate(-90)" text-anchor="middle">Electric Field (MV m<tspan font-size="10.4" dy="-5.9">-1</tspan><tspan dy="5.9">)</tspan></text>
<line x1="203" y1="280.1" x2="225.3" y2="280.1" stroke="#000000" stroke-width="1.25"/>
<text x="231.6" y="284.6" font-size="12.4">L1, <tspan font-style="italic">d</tspan>/<tspan font-style="italic">t</tspan>=6</text>
<line x1="203" y1="295.7" x2="225.3" y2="295.7" stroke="#0000ff" stroke-width="1.25"/>
<text x="231.6" y="300.2" font-size="12.4">L2, <tspan font-style="italic">d</tspan>/<tspan font-style="italic">t</tspan>=6</text>
<line x1="203" y1="311.3" x2="225.3" y2="311.3" stroke="#ff0000" stroke-width="1.25"/>
<text x="231.6" y="315.8" font-size="12.4">L2, <tspan font-style="italic">d</tspan>/<tspan font-style="italic">t</tspan>=12</text>
<line x1="203" y1="326.9" x2="225.3" y2="326.9" stroke="#6400c0" stroke-width="1.25"/>
<text x="231.6" y="331.4" font-size="12.4">L2, <tspan font-style="italic">d</tspan>/<tspan font-style="italic">t</tspan>=32</text>
<text x="0.4" y="278.9" font-weight="bold">c</text>
<path d="M396.5,291.85 L400.61,300.11 L404.72,307.99 L408.84,315.48 L412.95,322.61 L417.06,329.4 L421.17,335.87 L425.28,342.03 L429.39,347.89 L433.51,353.47 L437.62,358.78 L441.73,363.84 L445.84,368.65 L449.95,373.24 L454.07,377.6 L458.18,381.76 L462.29,385.72 L466.4,389.48 L470.51,393.07 L474.63,396.48 L478.74,399.73 L482.85,402.83 L486.96,405.78 L491.07,408.58 L495.18,411.25 L499.3,413.79 L503.41,416.22 L507.52,418.52 L511.63,420.71 L515.74,422.8 L519.86,424.79 L523.97,426.69 L528.08,428.49 L532.19,430.21 L536.3,431.84 L540.42,433.4 L544.53,434.88 L548.64,436.29 L552.75,437.63 L556.86,438.91 L560.97,440.13 L565.09,441.29 L569.2,442.39 L573.31,443.44 L577.42,444.44 L581.53,445.39 L585.65,446.3 L589.76,447.16 L593.87,447.98 L597.98,448.76 L602.09,449.51 L606.21,450.22 L610.32,450.89 L614.43,451.54 L618.54,452.15 L622.65,452.73 L626.76,453.28 L630.88,453.81 L634.99,454.32 L639.1,454.79" fill="none" stroke="#000" stroke-width="1.6"/>
<g stroke="#ff0000" stroke-width="1" fill="#ff0000">
<path d="M429.3,343.3 V356.4 M427.7,343.3 h3.2 M427.7,356.4 h3.2" fill="none"/>
<circle cx="429.3" cy="350" r="2.9" stroke="none"/>
<path d="M452.8,372.6 V395.1 M451.2,372.6 h3.2 M451.2,395.1 h3.2" fill="none"/>
<circle cx="452.8" cy="383.8" r="2.9" stroke="none"/>
<path d="M485.6,394.3 V414.4 M484,394.3 h3.2 M484,414.4 h3.2" fill="none"/>
<circle cx="485.6" cy="404.4" r="2.9" stroke="none"/>
<path d="M541.9,429.5 V445.3 M540.3,429.5 h3.2 M540.3,445.3 h3.2" fill="none"/>
<circle cx="541.9" cy="437.6" r="2.9" stroke="none"/>
<path d="M565,434 V441.7 M563.4,434 h3.2 M563.4,441.7 h3.2" fill="none"/>
<circle cx="565" cy="438.2" r="2.9" stroke="none"/>
<path d="M621.3,444 V450.4 M619.7,444 h3.2 M619.7,450.4 h3.2" fill="none"/>
<circle cx="621.3" cy="447.3" r="2.9" stroke="none"/>
</g>
<path d="M396.5,270.3 V464.3 H639.1" fill="none" stroke="#000" stroke-width="1.3"/>
<path d="M396.5,270.3 H639.1" fill="none" stroke="#333" stroke-width="0.9"/>
<path d="M639.1,269.9 V464.9" fill="none" stroke="#ff0000" stroke-width="1.3"/>
<path d="M396.5,436.6 h2.3 M396.5,408.9 h4.2 M396.5,381.2 h2.3 M396.5,353.5 h4.2 M396.5,325.8 h2.3 M396.5,298.1 h4.2 M429.52,464.3 v-2.3 M452.94,464.3 v-2.3 M471.11,464.3 v-4.2 M485.96,464.3 v-2.3 M498.51,464.3 v-2.3 M509.39,464.3 v-2.3 M518.98,464.3 v-2.3 M527.56,464.3 v-4.2 M584,464.3 v-4.2 M617.02,464.3 v-2.3" fill="none" stroke="#000" stroke-width="1"/>
<path d="M639.1,464.3 h-4.2 M639.1,436.6 h-2.3 M639.1,408.9 h-4.2 M639.1,381.2 h-2.3 M639.1,353.5 h-4.2 M639.1,325.8 h-2.3 M639.1,298.1 h-4.2" fill="none" stroke="#ff0000" stroke-width="1"/>
<text x="391.9" y="468.7" text-anchor="end">1.0</text>
<text x="643.7" y="468.7" fill="#ff0000">1.0</text>
<text x="391.9" y="413.3" text-anchor="end">1.2</text>
<text x="643.7" y="413.3" fill="#ff0000">1.2</text>
<text x="391.9" y="357.9" text-anchor="end">1.4</text>
<text x="643.7" y="357.9" fill="#ff0000">1.4</text>
<text x="391.9" y="302.5" text-anchor="end">1.6</text>
<text x="643.7" y="302.5" fill="#ff0000">1.6</text>
<text x="396.5" y="480.3" text-anchor="middle">2</text>
<text x="471.11" y="480.3" text-anchor="middle">5</text>
<text x="584" y="480.3" text-anchor="middle">20</text>
<text x="527.56" y="480.3" text-anchor="middle" stroke="#000" stroke-width="0.45">10</text>
<text x="518.4" y="502.6" text-anchor="middle"><tspan font-style="italic">d</tspan>/<tspan font-style="italic">t</tspan></text>
<text transform="translate(364.9,367.6) rotate(-90)" text-anchor="middle"><tspan font-style="italic" font-weight="bold" dy="0">ε</tspan><tspan font-size="9.8" dy="3.6">r,FEM</tspan><tspan dy="-3.6">/</tspan><tspan font-style="italic" font-weight="bold" dy="0">ε</tspan><tspan font-size="9.8" dy="3.6">r,0</tspan></text>
<text transform="translate(678.5,367.4) rotate(-90)" text-anchor="middle" fill="#ff0000"><tspan font-style="italic" font-weight="bold" dy="0">ε</tspan><tspan font-size="9.8" dy="3.6">r,exp</tspan><tspan dy="-3.6">/</tspan><tspan font-style="italic" font-weight="bold" dy="0">ε</tspan><tspan font-size="9.8" dy="3.6">r,0</tspan></text>
<text x="499.2" y="296.8">Al<tspan font-size="9.8" dy="3.4">2</tspan><tspan dy="-3.4">O</tspan><tspan font-size="9.8" dy="3.4">3</tspan><tspan dy="-3.4"> in air</tspan></text>
<line x1="500" y1="327.1" x2="516.8" y2="327.1" stroke="#000" stroke-width="1.4"/>
<circle cx="508.1" cy="344.7" r="2.9" fill="#ff0000"/>
<text x="528.5" y="331.5">Simulated</text>
<text x="528.5" y="349.6">Experimental</text>
<text x="355.6" y="278.9" font-weight="bold">d</text>
</svg>
</body></html>
